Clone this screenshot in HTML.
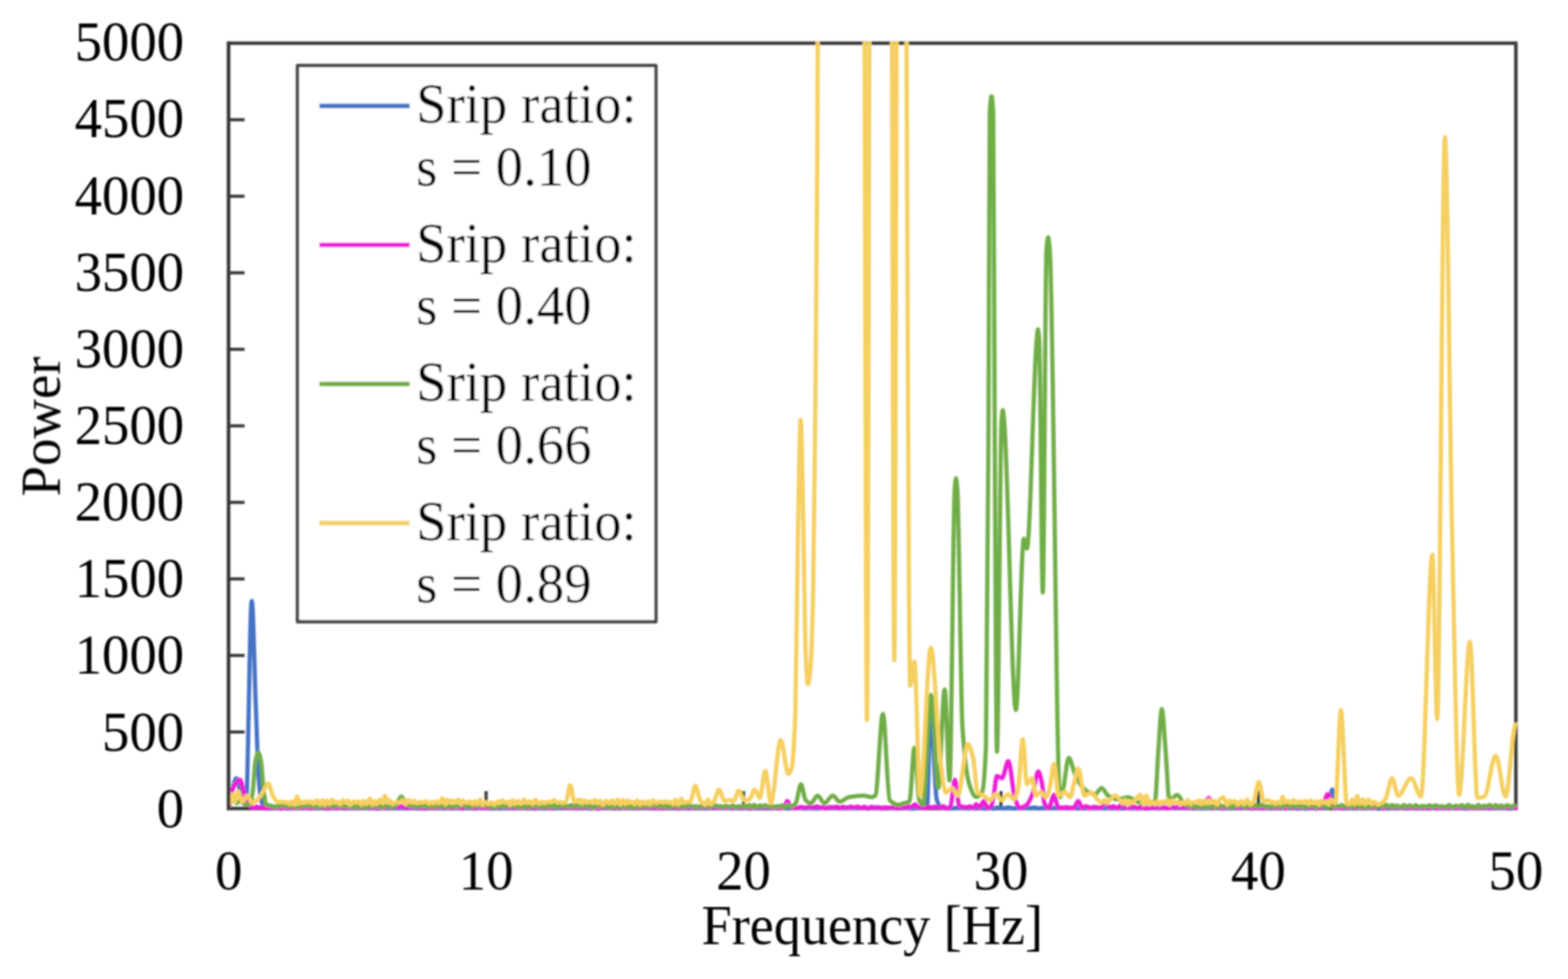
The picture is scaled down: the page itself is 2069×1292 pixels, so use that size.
<!DOCTYPE html>
<html><head><meta charset="utf-8"><title>Power spectrum</title>
<style>html,body{margin:0;padding:0;background:#fff;width:2069px;height:1292px;overflow:hidden}svg{display:block}</style>
</head><body>
<svg width="2069" height="1292" viewBox="0 0 2069 1292">
<rect x="0" y="0" width="2069" height="1292" fill="#fff"/>
<defs><clipPath id="pc"><rect x="299.7" y="55.0" width="1702.5" height="1018.0"/></clipPath><filter id="bl" filterUnits="userSpaceOnUse" x="0" y="0" width="2069" height="1292"><feGaussianBlur stdDeviation="0.5"/></filter><filter id="gall" filterUnits="userSpaceOnUse" x="0" y="0" width="2069" height="1292"><feGaussianBlur stdDeviation="1.0"/></filter></defs>
<g filter="url(#gall)">
<rect x="301.7" y="57.0" width="1698.5" height="1010.0" fill="none" stroke="#3a3a3a" stroke-width="4.6"/>
<line x1="641.4" y1="1067.0" x2="641.4" y2="1044.0" stroke="#3a3a3a" stroke-width="4.2"/>
<line x1="981.1" y1="1067.0" x2="981.1" y2="1044.0" stroke="#3a3a3a" stroke-width="4.2"/>
<line x1="1320.8" y1="1067.0" x2="1320.8" y2="1044.0" stroke="#3a3a3a" stroke-width="4.2"/>
<line x1="1660.5" y1="1067.0" x2="1660.5" y2="1044.0" stroke="#3a3a3a" stroke-width="4.2"/>
<g clip-path="url(#pc)"><g fill="none" stroke-width="5.6" stroke-linejoin="round" stroke-linecap="round">
<path stroke="#4472C4" d="M302.0 1064.0C303.3 1064.0 304.7 1050.1 306.0 1045.0C307.9 1037.6 309.9 1027.0 311.8 1027.0C313.5 1027.0 315.3 1038.7 317.0 1045.0C318.3 1049.8 319.7 1058.7 321.0 1060.0C322.2 1061.1 323.3 1062.0 324.5 1062.0C327.1 1062.0 329.6 793.0 332.2 793.0C334.0 793.0 335.7 884.5 337.5 930.0C338.7 960.1 339.8 1002.6 341.0 1020.0C342.0 1034.9 343.0 1046.9 344.0 1052.0C345.3 1058.8 346.7 1064.4 348.0 1065.0C350.8 1066.3 353.6 1066.9 356.3 1066.9C358.5 1066.9 360.6 1065.5 362.8 1065.5C364.6 1065.5 366.5 1066.6 368.4 1066.6C370.9 1066.6 373.4 1066.1 375.9 1066.1C377.6 1066.1 379.3 1067.0 381.0 1067.0C383.2 1067.0 385.4 1065.6 387.6 1065.6C389.0 1065.6 390.5 1066.5 391.9 1066.5C394.2 1066.5 396.5 1065.8 398.8 1065.8C401.2 1065.8 403.6 1066.5 406.0 1066.5C408.1 1066.5 410.2 1065.8 412.3 1065.8C414.2 1065.8 416.2 1066.4 418.1 1066.4C420.4 1066.4 422.6 1066.0 424.8 1066.0C427.2 1066.0 429.6 1067.0 432.0 1067.0C433.6 1067.0 435.2 1066.1 436.8 1066.1C439.1 1066.1 441.4 1066.5 443.7 1066.5C445.7 1066.5 447.8 1065.5 449.9 1065.5C451.5 1065.5 453.1 1066.9 454.8 1066.9C456.6 1066.9 458.4 1065.6 460.2 1065.6C461.7 1065.6 463.1 1066.7 464.6 1066.7C466.1 1066.7 467.5 1065.8 469.0 1065.8C470.6 1065.8 472.2 1066.5 473.8 1066.5C476.2 1066.5 478.6 1065.8 481.0 1065.8C483.2 1065.8 485.4 1066.8 487.6 1066.8C489.0 1066.8 490.4 1066.0 491.8 1066.0C493.9 1066.0 496.1 1066.9 498.2 1066.9C500.6 1066.9 503.1 1065.6 505.5 1065.6C508.0 1065.6 510.6 1066.8 513.1 1066.8C514.6 1066.8 516.1 1065.9 517.6 1065.9C519.7 1065.9 521.8 1066.6 523.9 1066.6C525.9 1066.6 527.9 1066.0 529.9 1066.0C531.8 1066.0 533.6 1066.6 535.5 1066.6C538.1 1066.6 540.6 1066.2 543.1 1066.2C545.6 1066.2 548.2 1066.5 550.7 1066.5C552.2 1066.5 553.7 1065.9 555.2 1065.9C557.7 1065.9 560.2 1066.9 562.7 1066.9C565.1 1066.9 567.6 1065.7 570.1 1065.7C572.1 1065.7 574.2 1066.4 576.2 1066.4C577.9 1066.4 579.6 1065.7 581.3 1065.7C582.8 1065.7 584.3 1066.8 585.8 1066.8C587.7 1066.8 589.6 1066.1 591.5 1066.1C593.2 1066.1 594.9 1066.8 596.6 1066.8C598.7 1066.8 600.8 1065.9 602.9 1065.9C604.7 1065.9 606.5 1066.6 608.3 1066.6C610.8 1066.6 613.3 1066.2 615.7 1066.2C618.3 1066.2 620.8 1066.5 623.3 1066.5C625.7 1066.5 628.1 1066.0 630.4 1066.0C632.7 1066.0 635.0 1066.5 637.3 1066.5C639.2 1066.5 641.2 1066.1 643.1 1066.1C645.4 1066.1 647.7 1067.0 650.0 1067.0C651.7 1067.0 653.5 1065.8 655.3 1065.8C656.8 1065.8 658.4 1066.9 659.9 1066.9C661.4 1066.9 662.8 1066.2 664.2 1066.2C666.2 1066.2 668.2 1066.5 670.2 1066.5C672.0 1066.5 673.7 1066.2 675.5 1066.2C677.7 1066.2 679.8 1066.5 682.0 1066.5C684.2 1066.5 686.4 1066.0 688.7 1066.0C690.4 1066.0 692.2 1066.5 694.0 1066.5C696.4 1066.5 698.8 1066.2 701.2 1066.2C702.7 1066.2 704.2 1067.0 705.8 1067.0C707.3 1067.0 708.8 1065.8 710.2 1065.8C712.8 1065.8 715.3 1066.9 717.8 1066.9C719.7 1066.9 721.6 1065.5 723.5 1065.5C725.9 1065.5 728.3 1066.8 730.7 1066.8C732.4 1066.8 734.2 1066.1 735.9 1066.1C737.8 1066.1 739.7 1066.4 741.5 1066.4C743.7 1066.4 745.9 1066.1 748.1 1066.1C750.1 1066.1 752.0 1066.3 753.9 1066.3C755.9 1066.3 757.9 1065.7 759.8 1065.7C762.3 1065.7 764.7 1066.6 767.2 1066.6C769.1 1066.6 770.9 1065.9 772.8 1065.9C774.5 1065.9 776.2 1066.9 778.0 1066.9C780.4 1066.9 782.8 1065.9 785.2 1065.9C786.8 1065.9 788.4 1067.0 790.0 1067.0C791.7 1067.0 793.3 1065.9 795.0 1065.9C796.7 1065.9 798.5 1066.3 800.2 1066.3C802.1 1066.3 804.0 1066.2 806.0 1066.2C807.7 1066.2 809.5 1066.9 811.3 1066.9C813.4 1066.9 815.6 1065.8 817.8 1065.8C820.0 1065.8 822.3 1066.3 824.5 1066.3C826.3 1066.3 828.1 1065.9 829.9 1065.9C832.0 1065.9 834.2 1066.8 836.3 1066.8C838.4 1066.8 840.6 1065.7 842.8 1065.7C845.0 1065.7 847.2 1066.3 849.4 1066.3C851.0 1066.3 852.6 1065.7 854.2 1065.7C856.8 1065.7 859.3 1066.9 861.8 1066.9C863.7 1066.9 865.5 1066.1 867.4 1066.1C869.9 1066.1 872.3 1066.6 874.8 1066.6C876.6 1066.6 878.5 1065.5 880.3 1065.5C881.7 1065.5 883.1 1066.4 884.6 1066.4C886.6 1066.4 888.7 1065.6 890.8 1065.6C893.3 1065.6 895.8 1066.8 898.4 1066.8C900.0 1066.8 901.7 1065.6 903.4 1065.6C904.8 1065.6 906.3 1067.0 907.7 1067.0C909.1 1067.0 910.5 1065.7 912.0 1065.7C913.5 1065.7 915.0 1066.4 916.6 1066.4C918.9 1066.4 921.2 1065.8 923.6 1065.8C925.5 1065.8 927.4 1066.5 929.3 1066.5C931.2 1066.5 933.1 1065.6 934.9 1065.6C937.1 1065.6 939.3 1066.3 941.5 1066.3C944.1 1066.3 946.7 1065.9 949.3 1065.9C951.3 1065.9 953.3 1066.3 955.4 1066.3C957.0 1066.3 958.7 1066.1 960.3 1066.1C962.0 1066.1 963.7 1066.4 965.4 1066.4C967.4 1066.4 969.4 1066.2 971.5 1066.2C973.7 1066.2 976.0 1067.0 978.2 1067.0C979.8 1067.0 981.5 1066.2 983.1 1066.2C985.0 1066.2 986.9 1067.0 988.7 1067.0C990.4 1067.0 992.1 1066.1 993.8 1066.1C995.7 1066.1 997.6 1066.7 999.6 1066.7C1001.4 1066.7 1003.2 1066.2 1004.9 1066.2C1007.1 1066.2 1009.3 1066.6 1011.4 1066.6C1013.5 1066.6 1015.6 1066.1 1017.7 1066.1C1020.1 1066.1 1022.4 1066.5 1024.7 1066.5C1026.9 1066.5 1029.1 1065.5 1031.3 1065.5C1033.5 1065.5 1035.8 1066.8 1038.1 1066.8C1040.2 1066.8 1042.3 1065.6 1044.5 1065.6C1046.6 1065.6 1048.7 1066.3 1050.9 1066.3C1052.9 1066.3 1054.8 1066.1 1056.8 1066.1C1059.0 1066.1 1061.2 1066.8 1063.5 1066.8C1065.2 1066.8 1066.9 1066.2 1068.6 1066.2C1071.2 1066.2 1073.8 1066.6 1076.4 1066.6C1078.7 1066.6 1081.0 1066.1 1083.4 1066.1C1085.6 1066.1 1087.9 1066.3 1090.1 1066.3C1092.1 1066.3 1094.1 1065.6 1096.1 1065.6C1097.6 1065.6 1099.2 1066.3 1100.8 1066.3C1102.5 1066.3 1104.3 1065.6 1106.1 1065.6C1107.9 1065.6 1109.8 1066.6 1111.7 1066.6C1113.6 1066.6 1115.4 1066.2 1117.2 1066.2C1118.7 1066.2 1120.3 1066.3 1121.8 1066.3C1123.6 1066.3 1125.4 1066.2 1127.2 1066.2C1129.4 1066.2 1131.5 1066.5 1133.7 1066.5C1136.2 1066.5 1138.7 1066.0 1141.2 1066.0C1142.6 1066.0 1144.0 1066.9 1145.4 1066.9C1147.4 1066.9 1149.4 1065.8 1151.4 1065.8C1153.7 1065.8 1156.1 1066.6 1158.4 1066.6C1159.8 1066.6 1161.2 1066.0 1162.6 1066.0C1164.3 1066.0 1166.0 1066.9 1167.7 1066.9C1169.9 1066.9 1172.1 1065.9 1174.3 1065.9C1176.8 1065.9 1179.3 1066.8 1181.9 1066.8C1183.3 1066.8 1184.8 1066.1 1186.2 1066.1C1188.1 1066.1 1190.0 1066.7 1191.9 1066.7C1193.4 1066.7 1194.9 1066.0 1196.4 1066.0C1198.7 1066.0 1201.0 1066.9 1203.4 1066.9C1205.5 1066.9 1207.7 1066.0 1209.8 1066.0C1212.6 1066.0 1215.3 1066.0 1218.0 1066.0C1219.7 1066.0 1221.5 1066.0 1223.2 1066.0C1224.8 1066.0 1226.4 935.0 1228.0 935.0C1230.7 935.0 1233.3 1046.6 1236.0 1055.0C1238.0 1061.3 1240.0 1066.0 1242.0 1066.0C1243.7 1066.0 1245.4 1066.0 1247.1 1066.0C1249.7 1066.1 1252.2 1066.9 1254.8 1066.9C1257.2 1066.9 1259.7 1066.1 1262.1 1066.1C1263.7 1066.1 1265.2 1066.3 1266.8 1066.3C1268.5 1066.3 1270.3 1065.9 1272.1 1065.9C1273.7 1065.9 1275.2 1066.9 1276.8 1066.9C1279.0 1066.9 1281.3 1066.2 1283.5 1066.2C1285.2 1066.2 1286.9 1067.0 1288.6 1067.0C1290.4 1067.0 1292.3 1066.2 1294.1 1066.2C1296.1 1066.2 1298.1 1067.0 1300.1 1067.0C1302.4 1067.0 1304.7 1066.1 1307.0 1066.1C1308.4 1066.1 1309.9 1066.9 1311.3 1066.9C1313.2 1066.9 1315.0 1065.6 1316.9 1065.6C1319.4 1065.6 1322.0 1066.8 1324.5 1066.8C1326.4 1066.8 1328.2 1065.6 1330.1 1065.6C1332.6 1065.6 1335.1 1066.9 1337.7 1066.9C1339.1 1066.9 1340.6 1065.9 1342.0 1065.9C1344.2 1065.9 1346.5 1066.7 1348.7 1066.7C1350.9 1066.7 1353.1 1065.9 1355.3 1065.9C1357.1 1065.9 1358.8 1066.4 1360.6 1066.4C1362.2 1066.4 1363.7 1065.8 1365.3 1065.8C1367.1 1065.8 1368.9 1066.8 1370.7 1066.8C1372.2 1066.8 1373.6 1066.2 1375.0 1066.2C1377.2 1066.2 1379.4 1066.5 1381.6 1066.5C1383.6 1066.5 1385.5 1065.8 1387.4 1065.8C1390.0 1065.8 1392.6 1066.7 1395.1 1066.7C1397.4 1066.7 1399.7 1065.6 1402.0 1065.6C1404.2 1065.6 1406.4 1066.8 1408.7 1066.8C1411.0 1066.8 1413.4 1065.8 1415.8 1065.8C1418.1 1065.8 1420.4 1066.8 1422.7 1066.8C1424.1 1066.8 1425.6 1065.7 1427.1 1065.7C1428.5 1065.7 1430.0 1067.0 1431.4 1067.0C1433.3 1067.0 1435.2 1065.8 1437.1 1065.8C1439.3 1065.8 1441.6 1066.7 1443.8 1066.7C1446.0 1066.7 1448.2 1066.0 1450.3 1066.0C1451.9 1066.0 1453.5 1066.5 1455.1 1066.5C1457.2 1066.5 1459.4 1066.2 1461.5 1066.2C1463.9 1066.2 1466.3 1066.8 1468.7 1066.8C1471.2 1066.8 1473.7 1065.5 1476.3 1065.5C1477.8 1065.5 1479.4 1066.9 1481.0 1066.9C1483.3 1066.9 1485.7 1065.9 1488.1 1065.9C1489.7 1065.9 1491.2 1066.8 1492.7 1066.8C1494.4 1066.8 1496.1 1066.2 1497.8 1066.2C1499.3 1066.2 1500.7 1066.8 1502.2 1066.8C1504.5 1066.8 1506.7 1065.7 1508.9 1065.7C1510.6 1065.7 1512.3 1066.9 1514.0 1066.9C1516.1 1066.9 1518.3 1065.6 1520.4 1065.6C1522.7 1065.6 1525.0 1066.7 1527.3 1066.7C1529.5 1066.7 1531.8 1065.6 1534.1 1065.6C1535.6 1065.6 1537.2 1066.4 1538.8 1066.4C1540.2 1066.4 1541.7 1066.2 1543.1 1066.2C1545.0 1066.2 1546.8 1066.3 1548.7 1066.3C1550.9 1066.3 1553.2 1065.9 1555.5 1065.9C1557.4 1065.9 1559.3 1066.3 1561.2 1066.3C1563.3 1066.3 1565.5 1066.0 1567.6 1066.0C1570.0 1066.0 1572.4 1066.7 1574.8 1066.7C1577.3 1066.7 1579.9 1066.2 1582.4 1066.2C1584.4 1066.2 1586.3 1066.6 1588.2 1066.6C1590.7 1066.6 1593.2 1065.9 1595.6 1065.9C1597.3 1065.9 1599.0 1066.5 1600.7 1066.5C1602.9 1066.5 1605.2 1065.7 1607.5 1065.7C1609.9 1065.7 1612.3 1066.6 1614.8 1066.6C1616.3 1066.6 1617.9 1066.1 1619.4 1066.1C1621.0 1066.1 1622.5 1066.6 1624.1 1066.6C1626.4 1066.6 1628.7 1065.7 1631.0 1065.7C1633.6 1065.7 1636.2 1066.5 1638.8 1066.5C1641.2 1066.5 1643.6 1065.6 1646.1 1065.6C1648.5 1065.6 1650.9 1066.6 1653.3 1066.6C1655.6 1066.6 1657.9 1065.6 1660.2 1065.6C1662.2 1065.6 1664.2 1066.9 1666.2 1066.9C1667.7 1066.9 1669.2 1065.7 1670.7 1065.7C1673.1 1065.7 1675.5 1066.9 1677.9 1066.9C1680.3 1066.9 1682.7 1065.5 1685.1 1065.5C1686.6 1065.5 1688.1 1066.5 1689.6 1066.5C1691.1 1066.5 1692.6 1065.7 1694.1 1065.7C1695.9 1065.7 1697.8 1066.3 1699.6 1066.3C1701.5 1066.3 1703.3 1065.6 1705.2 1065.6C1707.5 1065.6 1709.7 1066.9 1712.0 1066.9C1713.8 1066.9 1715.6 1066.0 1717.4 1066.0C1719.8 1066.0 1722.2 1066.9 1724.6 1066.9C1726.5 1066.9 1728.5 1065.6 1730.4 1065.6C1732.4 1065.6 1734.3 1066.9 1736.3 1066.9C1738.6 1066.9 1741.0 1066.2 1743.3 1066.1C1746.2 1066.0 1749.1 1066.1 1752.0 1066.0C1754.0 1065.9 1756.0 1042.0 1758.0 1042.0C1760.0 1042.0 1762.0 1065.7 1764.0 1066.0C1767.2 1066.5 1770.4 1066.8 1773.6 1066.8C1775.7 1066.8 1777.8 1066.1 1779.9 1066.1C1782.5 1066.1 1785.1 1066.8 1787.7 1066.8C1790.0 1066.8 1792.2 1066.1 1794.4 1066.1C1795.9 1066.1 1797.4 1066.8 1798.8 1066.8C1800.7 1066.8 1802.6 1065.7 1804.5 1065.7C1806.0 1065.7 1807.5 1066.5 1809.0 1066.5C1810.5 1066.5 1812.0 1066.0 1813.5 1066.0C1815.5 1066.0 1817.5 1067.0 1819.5 1067.0C1821.2 1067.0 1822.9 1066.0 1824.6 1066.0C1826.9 1066.0 1829.2 1066.8 1831.5 1066.8C1833.7 1066.8 1835.9 1065.8 1838.1 1065.8C1839.9 1065.8 1841.8 1067.0 1843.6 1067.0C1845.7 1067.0 1847.9 1065.8 1850.1 1065.8C1852.0 1065.8 1854.0 1066.9 1856.0 1066.9C1858.6 1066.9 1861.2 1065.8 1863.8 1065.8C1865.9 1065.8 1868.1 1066.5 1870.2 1066.5C1872.7 1066.5 1875.1 1066.2 1877.5 1066.2C1879.7 1066.2 1881.9 1066.8 1884.1 1066.8C1886.6 1066.8 1889.1 1066.0 1891.5 1066.0C1893.6 1066.0 1895.6 1066.6 1897.7 1066.6C1900.1 1066.6 1902.5 1065.5 1905.0 1065.5C1906.8 1065.5 1908.6 1066.6 1910.4 1066.6C1911.9 1066.6 1913.5 1065.7 1915.1 1065.7C1917.1 1065.7 1919.0 1066.6 1921.0 1066.6C1922.9 1066.6 1924.7 1066.1 1926.5 1066.1C1928.8 1066.1 1931.0 1066.9 1933.2 1066.9C1934.9 1066.9 1936.6 1066.0 1938.3 1066.0C1940.3 1066.0 1942.3 1066.3 1944.3 1066.3C1946.2 1066.3 1948.1 1066.1 1949.9 1066.1C1951.4 1066.1 1952.8 1066.6 1954.2 1066.6C1956.2 1066.6 1958.1 1065.9 1960.1 1065.9C1962.2 1065.9 1964.3 1066.8 1966.4 1066.8C1968.6 1066.8 1970.9 1066.1 1973.1 1066.1C1975.0 1066.1 1976.9 1066.4 1978.7 1066.4C1981.2 1066.4 1983.6 1065.9 1986.0 1065.9C1988.2 1065.9 1990.3 1067.0 1992.5 1067.0C1994.0 1067.0 1995.5 1066.1 1997.0 1066.1"/>
<path stroke="#EE1ED8" d="M302.0 1064.0C303.3 1064.0 304.7 1047.9 306.0 1044.0C307.7 1039.2 309.3 1036.1 311.0 1034.0C312.9 1031.7 314.7 1029.0 316.6 1029.0C318.4 1029.0 320.2 1040.3 322.0 1046.0C323.7 1051.3 325.3 1060.3 327.0 1062.0C328.3 1063.4 329.7 1063.9 331.0 1064.5C332.3 1065.2 333.7 1066.3 335.0 1066.3C336.1 1066.3 337.2 1064.6 338.3 1064.6C339.7 1064.6 341.2 1065.7 342.6 1065.7C344.5 1065.7 346.4 1064.7 348.2 1064.7C349.4 1064.7 350.6 1066.9 351.7 1066.9C353.6 1066.9 355.6 1065.1 357.5 1065.1C359.4 1065.1 361.2 1065.9 363.1 1065.9C364.2 1065.9 365.4 1065.0 366.6 1065.0C367.9 1065.0 369.1 1067.0 370.4 1067.0C372.0 1067.0 373.5 1065.0 375.0 1065.0C376.2 1065.0 377.4 1066.8 378.7 1066.8C379.7 1066.8 380.8 1064.2 381.9 1064.2C383.5 1064.2 385.0 1066.8 386.6 1066.8C387.7 1066.8 388.9 1065.3 390.1 1065.3C391.2 1065.3 392.3 1066.6 393.4 1066.6C394.7 1066.6 395.9 1065.2 397.1 1065.2C398.6 1065.2 400.0 1066.3 401.5 1066.3C402.9 1066.3 404.2 1064.7 405.6 1064.7C406.9 1064.7 408.3 1066.9 409.6 1066.9C411.1 1066.9 412.6 1064.9 414.1 1064.9C415.2 1064.9 416.4 1065.7 417.5 1065.7C418.6 1065.7 419.6 1064.7 420.7 1064.7C422.0 1064.7 423.4 1065.7 424.7 1065.7C426.4 1065.7 428.1 1065.3 429.7 1065.3C431.3 1065.3 432.9 1066.9 434.5 1066.9C435.7 1066.9 436.8 1064.6 437.9 1064.6C439.4 1064.6 440.9 1066.4 442.3 1066.4C443.8 1066.4 445.3 1065.1 446.8 1065.1C448.8 1065.1 450.7 1066.3 452.6 1066.3C453.7 1066.3 454.7 1064.9 455.8 1064.9C457.1 1064.9 458.5 1066.8 459.8 1066.8C461.0 1066.8 462.3 1064.4 463.5 1064.4C464.8 1064.4 466.1 1066.1 467.4 1066.1C469.1 1066.1 470.9 1064.1 472.6 1064.1C474.0 1064.1 475.5 1065.8 476.9 1065.8C478.8 1065.8 480.7 1064.2 482.6 1064.2C484.2 1064.2 485.7 1066.2 487.3 1066.2C489.1 1066.2 490.9 1064.6 492.8 1064.6C494.0 1064.6 495.3 1066.9 496.5 1066.9C497.8 1066.9 499.1 1064.6 500.4 1064.6C501.6 1064.6 502.9 1066.7 504.1 1066.7C506.0 1066.7 507.9 1065.4 509.8 1065.4C511.5 1065.4 513.3 1066.1 515.0 1066.1C517.0 1066.1 518.9 1061.2 520.9 1061.2C522.3 1061.2 523.7 1065.6 525.1 1065.6C526.9 1065.6 528.7 1063.9 530.5 1063.9C532.2 1063.9 534.0 1065.8 535.7 1065.8C537.0 1065.8 538.3 1065.3 539.5 1065.3C541.3 1065.3 543.0 1065.9 544.8 1065.9C546.6 1065.9 548.5 1064.0 550.3 1064.0C552.1 1064.0 553.9 1067.0 555.7 1067.0C556.8 1067.0 557.8 1064.2 558.9 1064.2C560.2 1064.2 561.6 1066.8 562.9 1066.8C564.3 1066.8 565.6 1065.0 567.0 1065.0C568.4 1065.0 569.9 1066.7 571.3 1066.7C572.4 1066.7 573.6 1065.2 574.7 1065.2C575.8 1065.2 577.0 1066.4 578.1 1066.4C579.3 1066.4 580.5 1064.3 581.6 1064.3C583.1 1064.3 584.5 1066.0 586.0 1066.0C587.3 1066.0 588.5 1065.5 589.8 1065.5C591.1 1065.5 592.5 1066.5 593.9 1066.5C595.1 1066.5 596.4 1065.0 597.7 1065.0C598.7 1065.0 599.8 1066.3 600.9 1066.3C602.3 1066.3 603.7 1065.1 605.0 1065.1C606.3 1065.1 607.5 1066.9 608.8 1066.9C610.0 1066.9 611.2 1064.0 612.4 1064.0C613.5 1064.0 614.7 1065.5 615.8 1065.5C617.5 1065.5 619.1 1064.1 620.7 1064.1C622.5 1064.1 624.3 1066.9 626.1 1066.9C627.3 1066.9 628.6 1064.3 629.9 1064.3C631.6 1064.3 633.4 1066.4 635.1 1066.4C637.0 1066.4 638.8 1065.4 640.7 1065.4C641.9 1065.4 643.1 1066.7 644.3 1066.7C646.2 1066.7 648.0 1064.9 649.9 1064.9C651.2 1064.9 652.5 1065.9 653.8 1065.9C655.6 1065.9 657.5 1064.6 659.4 1064.6C661.0 1064.6 662.7 1065.6 664.3 1065.6C666.1 1065.6 667.9 1064.8 669.6 1064.8C670.8 1064.8 671.9 1065.8 673.1 1065.8C674.3 1065.8 675.4 1063.5 676.6 1063.5C678.0 1063.5 679.4 1066.3 680.8 1066.3C682.0 1066.3 683.2 1064.9 684.4 1064.9C685.6 1064.9 686.7 1066.8 687.9 1066.8C689.4 1066.8 690.9 1064.1 692.4 1064.1C694.0 1064.1 695.5 1066.9 697.1 1066.9C698.9 1066.9 700.8 1064.0 702.6 1064.0C704.1 1064.0 705.7 1066.4 707.2 1066.4C708.8 1066.4 710.4 1064.3 711.9 1064.3C713.4 1064.3 714.9 1066.2 716.4 1066.2C717.7 1066.2 719.1 1064.7 720.4 1064.7C721.7 1064.7 723.0 1066.3 724.3 1066.3C726.2 1066.3 728.1 1065.1 729.9 1065.1C731.3 1065.1 732.6 1065.7 733.9 1065.7C735.2 1065.7 736.6 1064.3 737.9 1064.3C739.7 1064.3 741.6 1065.8 743.4 1065.8C744.6 1065.8 745.8 1064.8 747.1 1064.8C748.3 1064.8 749.6 1066.1 750.9 1066.1C752.7 1066.1 754.6 1064.1 756.4 1064.1C757.5 1064.1 758.7 1067.0 759.9 1067.0C761.2 1067.0 762.5 1064.7 763.9 1064.7C765.7 1064.7 767.4 1066.0 769.2 1066.0C770.8 1066.0 772.5 1064.3 774.1 1064.3C775.7 1064.3 777.3 1066.5 779.0 1066.5C780.3 1066.5 781.6 1065.3 782.9 1065.3C784.8 1065.3 786.6 1067.0 788.5 1067.0C790.2 1067.0 791.9 1065.4 793.6 1065.4C794.9 1065.4 796.2 1065.6 797.6 1065.6C799.0 1065.6 800.5 1064.7 801.9 1064.7C803.2 1064.7 804.4 1066.6 805.7 1066.6C806.8 1066.6 807.9 1065.5 809.0 1065.5C810.8 1065.5 812.5 1066.0 814.2 1066.0C815.5 1066.0 816.8 1064.0 818.0 1064.0C819.5 1064.0 820.9 1066.5 822.4 1066.5C823.6 1066.5 824.8 1064.1 826.0 1064.1C827.2 1064.1 828.3 1066.7 829.5 1066.7C831.3 1066.7 833.1 1064.9 834.8 1064.9C836.1 1064.9 837.5 1066.5 838.8 1066.5C840.4 1066.5 841.9 1065.0 843.5 1065.0C844.6 1065.0 845.7 1066.2 846.8 1066.2C848.4 1066.2 850.0 1065.0 851.6 1065.0C853.5 1065.0 855.3 1066.0 857.2 1066.0C858.6 1066.0 860.1 1065.3 861.5 1065.3C862.8 1065.3 864.1 1066.8 865.4 1066.8C866.9 1066.8 868.5 1065.2 870.0 1065.2C871.7 1065.2 873.5 1067.0 875.2 1067.0C876.8 1067.0 878.4 1065.2 880.1 1065.2C881.8 1065.2 883.5 1065.6 885.2 1065.6C886.5 1065.6 887.8 1064.4 889.2 1064.4C891.1 1064.4 893.0 1066.7 894.9 1066.7C896.5 1066.7 898.2 1065.4 899.8 1065.4C901.5 1065.4 903.2 1065.6 905.0 1065.6C906.7 1065.6 908.4 1064.7 910.2 1064.7C911.8 1064.7 913.4 1066.0 915.0 1066.0C916.6 1066.0 918.2 1064.4 919.8 1064.4C921.7 1064.4 923.6 1066.1 925.5 1066.1C927.3 1066.1 929.2 1064.4 931.0 1064.4C932.8 1064.4 934.6 1066.5 936.3 1066.5C938.1 1066.5 939.9 1064.2 941.7 1064.2C943.6 1064.2 945.5 1066.0 947.3 1066.0C948.8 1066.0 950.3 1065.1 951.8 1065.1C953.7 1065.1 955.5 1066.5 957.4 1066.5C958.6 1066.5 959.9 1064.4 961.1 1064.4C962.3 1064.4 963.6 1066.8 964.8 1066.8C966.0 1066.8 967.1 1064.7 968.3 1064.7C969.5 1064.7 970.8 1065.8 972.1 1065.8C973.2 1065.8 974.3 1065.2 975.4 1065.2C977.1 1065.2 978.8 1066.3 980.6 1066.3C982.2 1066.3 983.9 1065.0 985.6 1065.0C987.1 1065.0 988.6 1067.0 990.1 1067.0C991.3 1067.0 992.6 1065.0 993.8 1065.0C995.0 1065.0 996.3 1066.6 997.5 1066.6C999.4 1066.6 1001.4 1064.5 1003.3 1064.5C1005.1 1064.5 1006.8 1065.9 1008.6 1065.9C1010.4 1065.9 1012.1 1064.7 1013.9 1064.7C1015.1 1064.7 1016.2 1066.4 1017.3 1066.4C1018.7 1066.4 1020.2 1065.1 1021.6 1065.1C1023.4 1065.1 1025.2 1066.7 1027.1 1066.7C1029.4 1066.7 1031.7 1066.4 1034.0 1066.0C1035.7 1065.7 1037.3 1057.0 1039.0 1057.0C1040.7 1057.0 1042.3 1065.9 1044.0 1066.0C1047.0 1066.2 1050.0 1066.3 1053.0 1066.3C1054.1 1066.3 1055.2 1064.9 1056.3 1064.9C1058.1 1064.9 1059.8 1065.9 1061.6 1065.9C1063.5 1065.9 1065.5 1064.9 1067.4 1064.9C1069.2 1064.9 1071.0 1065.6 1072.8 1065.6C1074.6 1065.6 1076.4 1064.2 1078.3 1064.2C1079.7 1064.2 1081.1 1066.1 1082.4 1066.1C1083.6 1066.1 1084.8 1065.0 1085.9 1065.0C1087.2 1065.0 1088.4 1066.7 1089.6 1066.7C1091.3 1066.7 1092.9 1065.0 1094.5 1065.0C1096.3 1065.0 1098.1 1065.6 1099.8 1065.6C1101.1 1065.6 1102.3 1064.5 1103.6 1064.5C1104.8 1064.5 1106.1 1066.8 1107.3 1066.8C1109.0 1066.8 1110.6 1064.7 1112.2 1064.7C1113.9 1064.7 1115.5 1065.9 1117.2 1065.9C1119.0 1065.9 1120.8 1064.6 1122.7 1064.6C1123.9 1064.6 1125.1 1065.7 1126.3 1065.7C1128.0 1065.7 1129.8 1064.5 1131.6 1064.5C1133.4 1064.5 1135.2 1066.4 1137.0 1066.4C1138.2 1066.4 1139.4 1064.9 1140.6 1064.9C1142.5 1064.9 1144.3 1067.0 1146.2 1067.0C1147.2 1067.0 1148.3 1064.8 1149.3 1064.8C1151.2 1064.8 1153.0 1065.7 1154.8 1065.7C1156.0 1065.7 1157.1 1065.2 1158.2 1065.2C1159.6 1065.2 1161.1 1066.5 1162.5 1066.5C1164.4 1066.5 1166.4 1065.5 1168.3 1065.5C1170.1 1065.5 1172.0 1065.9 1173.8 1065.9C1175.7 1065.9 1177.5 1065.1 1179.3 1065.1C1181.3 1065.1 1183.2 1066.8 1185.1 1066.8C1186.6 1066.8 1188.0 1064.0 1189.5 1064.0C1191.2 1064.0 1192.9 1065.9 1194.7 1065.9C1196.0 1065.9 1197.3 1064.0 1198.5 1064.0C1199.7 1064.0 1200.9 1065.5 1202.0 1065.5C1203.9 1065.5 1205.7 1061.6 1207.6 1061.6C1209.2 1061.6 1210.7 1065.9 1212.3 1065.9C1213.4 1065.9 1214.6 1064.8 1215.7 1064.8C1217.4 1064.8 1219.1 1066.7 1220.8 1066.7C1222.1 1066.7 1223.5 1064.8 1224.8 1064.8C1226.8 1064.8 1228.7 1065.6 1230.7 1065.6C1231.7 1065.6 1232.8 1064.6 1233.8 1064.6C1235.6 1064.6 1237.5 1066.2 1239.3 1066.2C1241.1 1066.2 1243.0 1064.1 1244.9 1064.1C1246.1 1064.1 1247.3 1066.9 1248.5 1066.9C1250.3 1066.9 1252.2 1066.2 1254.0 1065.0C1256.0 1063.7 1258.0 1029.0 1260.0 1029.0C1262.0 1029.0 1264.0 1063.4 1266.0 1064.0C1267.6 1064.5 1269.2 1064.5 1270.7 1064.8C1272.4 1065.1 1274.1 1065.6 1275.7 1065.6C1277.1 1065.6 1278.5 1064.1 1279.9 1064.1C1281.3 1064.1 1282.7 1066.2 1284.1 1066.2C1285.5 1066.2 1286.8 1061.3 1288.2 1061.3C1289.8 1061.3 1291.4 1066.0 1293.0 1066.0C1294.7 1066.0 1296.3 1057.0 1298.0 1057.0C1299.7 1057.0 1301.3 1066.0 1303.0 1066.0C1304.7 1066.0 1306.3 1065.3 1308.0 1064.0C1309.2 1063.1 1310.4 1053.4 1311.6 1047.0C1312.9 1040.3 1314.1 1024.0 1315.4 1024.0C1317.7 1024.0 1319.9 1027.0 1322.2 1027.0C1324.9 1027.0 1327.7 1004.5 1330.4 1004.5C1333.5 1004.5 1336.5 1047.2 1339.6 1055.0C1341.7 1060.4 1343.9 1066.0 1346.0 1066.0C1348.7 1066.0 1351.3 1064.6 1354.0 1063.0C1356.9 1061.2 1359.9 1054.4 1362.8 1047.0C1365.2 1040.9 1367.6 1018.0 1370.0 1018.0C1371.8 1018.0 1373.6 1027.5 1375.4 1037.0C1376.3 1041.6 1377.1 1058.3 1378.0 1060.0C1380.0 1064.0 1382.0 1066.0 1384.0 1066.0C1386.3 1066.0 1388.5 1049.0 1390.8 1049.0C1392.5 1049.0 1394.3 1064.4 1396.0 1065.0C1398.5 1065.9 1400.9 1066.4 1403.4 1066.4C1404.7 1066.4 1406.0 1065.1 1407.3 1065.1C1408.7 1065.1 1410.1 1066.4 1411.5 1066.4C1413.4 1066.4 1415.2 1066.2 1417.0 1066.0C1418.9 1065.7 1420.8 1057.0 1422.7 1057.0C1424.5 1057.0 1426.2 1066.0 1428.0 1066.0C1429.8 1066.0 1431.7 1064.0 1433.5 1064.0C1435.1 1064.0 1436.8 1066.6 1438.4 1066.6C1440.2 1066.6 1442.0 1064.9 1443.8 1064.9C1446.8 1064.9 1449.9 1066.0 1453.0 1066.0C1454.8 1066.0 1456.7 1057.0 1458.5 1057.0C1460.3 1057.0 1462.2 1066.0 1464.0 1066.0C1465.7 1066.0 1467.3 1064.1 1469.0 1064.1C1470.8 1064.1 1472.6 1066.8 1474.4 1066.8C1476.2 1066.8 1478.1 1061.4 1480.0 1061.4C1481.2 1061.4 1482.5 1066.0 1483.7 1066.0C1484.8 1066.0 1485.9 1064.8 1486.9 1064.8C1488.4 1064.8 1489.8 1065.8 1491.3 1065.8C1492.6 1065.8 1493.9 1064.1 1495.2 1064.1C1497.1 1064.1 1499.1 1066.6 1501.0 1066.6C1502.6 1066.6 1504.3 1064.1 1506.0 1064.1C1507.8 1064.1 1509.6 1066.9 1511.4 1066.9C1513.3 1066.9 1515.3 1065.4 1517.2 1065.4C1519.0 1065.4 1520.8 1065.9 1522.6 1065.9C1524.3 1065.9 1526.0 1064.6 1527.7 1064.6C1528.9 1064.6 1530.2 1065.6 1531.4 1065.6C1533.2 1065.6 1535.0 1065.2 1536.8 1065.2C1538.2 1065.2 1539.6 1066.8 1541.1 1066.8C1542.9 1066.8 1544.7 1064.2 1546.5 1064.2C1547.6 1064.2 1548.7 1065.9 1549.8 1065.9C1551.7 1065.9 1553.5 1064.4 1555.4 1064.4C1557.3 1064.4 1559.3 1065.9 1561.2 1065.9C1562.9 1065.9 1564.6 1065.0 1566.3 1065.0C1567.7 1065.0 1569.0 1066.6 1570.3 1066.6C1571.7 1066.6 1573.0 1063.5 1574.4 1063.5C1575.7 1063.5 1577.0 1066.7 1578.3 1066.7C1579.3 1066.7 1580.4 1064.4 1581.5 1064.4C1584.0 1064.4 1586.5 1066.0 1589.0 1066.0C1591.0 1066.0 1593.0 1053.0 1595.0 1053.0C1597.0 1053.0 1599.0 1066.0 1601.0 1066.0C1602.6 1066.0 1604.3 1065.9 1605.9 1065.8C1607.0 1065.6 1608.1 1064.2 1609.2 1064.2C1610.6 1064.2 1611.9 1066.6 1613.2 1066.6C1614.7 1066.6 1616.3 1065.3 1617.8 1065.3C1619.2 1065.3 1620.7 1065.7 1622.1 1065.7C1624.0 1065.7 1625.9 1064.3 1627.8 1064.3C1629.1 1064.3 1630.3 1066.1 1631.6 1066.1C1633.5 1066.1 1635.4 1064.6 1637.3 1064.6C1639.1 1064.6 1640.8 1066.3 1642.6 1066.3C1644.2 1066.3 1645.8 1064.8 1647.4 1064.8C1649.0 1064.8 1650.6 1066.8 1652.2 1066.8C1653.8 1066.8 1655.4 1064.9 1657.1 1064.9C1658.6 1064.9 1660.1 1066.6 1661.6 1066.6C1663.5 1066.6 1665.4 1065.2 1667.3 1065.2C1668.3 1065.2 1669.4 1066.5 1670.4 1066.5C1672.1 1066.5 1673.7 1064.8 1675.3 1064.8C1676.9 1064.8 1678.5 1066.1 1680.0 1066.1C1681.3 1066.1 1682.6 1064.1 1683.9 1064.1C1685.0 1064.1 1686.0 1065.7 1687.1 1065.7C1688.3 1065.7 1689.5 1064.9 1690.7 1064.9C1692.6 1064.9 1694.4 1066.7 1696.3 1066.7C1697.6 1066.7 1698.9 1064.7 1700.2 1064.7C1701.7 1064.7 1703.2 1065.9 1704.6 1065.9C1706.6 1065.9 1708.5 1065.4 1710.5 1065.4C1712.2 1065.4 1714.0 1065.8 1715.8 1065.8C1717.7 1065.8 1719.6 1065.0 1721.5 1065.0C1723.1 1065.0 1724.8 1065.8 1726.4 1065.8C1728.2 1065.8 1730.0 1064.7 1731.7 1064.7C1733.4 1064.7 1735.1 1066.6 1736.8 1066.6C1737.8 1066.6 1738.9 1065.5 1740.0 1065.5C1741.3 1065.5 1742.7 1066.0 1744.0 1066.0C1746.7 1066.0 1749.3 1048.0 1752.0 1048.0C1754.7 1048.0 1757.3 1066.0 1760.0 1066.0C1762.2 1066.0 1764.4 1065.1 1766.6 1065.1C1767.9 1065.1 1769.1 1066.6 1770.3 1066.6C1772.1 1066.6 1773.9 1064.8 1775.7 1064.8C1777.6 1064.8 1779.4 1066.1 1781.3 1066.1C1782.3 1066.1 1783.4 1065.0 1784.5 1065.0C1785.8 1065.0 1787.1 1065.9 1788.4 1065.9C1789.6 1065.9 1790.9 1065.4 1792.1 1065.4C1793.7 1065.4 1795.3 1066.3 1796.9 1066.3C1798.7 1066.3 1800.5 1064.5 1802.4 1064.5C1803.7 1064.5 1805.1 1066.5 1806.4 1066.5C1807.8 1066.5 1809.1 1064.8 1810.5 1064.8C1811.7 1064.8 1813.0 1066.2 1814.2 1066.2C1816.1 1066.2 1818.0 1062.6 1819.9 1062.6C1821.5 1062.6 1823.1 1066.9 1824.7 1066.9C1826.7 1066.9 1828.6 1064.3 1830.5 1064.3C1832.1 1064.3 1833.6 1066.0 1835.1 1066.0C1836.5 1066.0 1837.9 1064.6 1839.3 1064.6C1840.7 1064.6 1842.0 1066.3 1843.4 1066.3C1844.5 1066.3 1845.6 1064.6 1846.7 1064.6C1848.0 1064.6 1849.3 1066.8 1850.6 1066.8C1852.3 1066.8 1854.0 1064.8 1855.7 1064.8C1857.3 1064.8 1858.8 1066.1 1860.3 1066.1C1861.7 1066.1 1863.0 1065.1 1864.4 1065.1C1866.1 1065.1 1867.8 1066.8 1869.5 1066.8C1870.7 1066.8 1871.9 1065.0 1873.0 1065.0C1874.4 1065.0 1875.7 1066.7 1877.0 1066.7C1878.5 1066.7 1879.9 1064.7 1881.3 1064.7C1882.7 1064.7 1884.0 1066.4 1885.3 1066.4C1887.3 1066.4 1889.2 1064.4 1891.2 1064.4C1892.7 1064.4 1894.2 1066.8 1895.7 1066.8C1897.6 1066.8 1899.5 1065.1 1901.5 1065.1C1902.7 1065.1 1904.0 1066.7 1905.2 1066.7C1906.6 1066.7 1907.9 1065.0 1909.3 1065.0C1910.7 1065.0 1912.1 1066.4 1913.5 1066.4C1914.6 1066.4 1915.8 1064.6 1916.9 1064.6C1918.2 1064.6 1919.5 1066.8 1920.7 1066.8C1921.8 1066.8 1922.9 1065.2 1923.9 1065.2C1925.6 1065.2 1927.2 1065.6 1928.8 1065.6C1930.6 1065.6 1932.4 1065.3 1934.1 1065.3C1935.4 1065.3 1936.6 1066.9 1937.8 1066.9C1938.9 1066.9 1940.0 1064.7 1941.1 1064.7C1943.0 1064.7 1944.9 1067.0 1946.8 1067.0C1948.1 1067.0 1949.4 1065.0 1950.7 1065.0C1951.8 1065.0 1952.9 1066.3 1954.1 1066.3C1955.9 1066.3 1957.8 1064.3 1959.6 1064.3C1961.1 1064.3 1962.6 1066.0 1964.1 1066.0C1965.3 1066.0 1966.5 1064.2 1967.6 1064.2C1969.0 1064.2 1970.4 1066.5 1971.8 1066.5C1972.9 1066.5 1974.0 1064.1 1975.2 1064.1C1976.7 1064.1 1978.3 1066.0 1979.9 1066.0C1981.5 1066.0 1983.1 1064.3 1984.7 1064.3C1986.3 1064.3 1988.0 1066.7 1989.6 1066.7C1991.3 1066.7 1993.0 1064.4 1994.7 1064.4C1996.4 1064.4 1998.1 1066.0 1999.8 1066.0"/>
<path stroke="#70AD47" d="M302.0 1062.0C303.7 1062.0 305.3 1052.0 307.0 1052.0C308.7 1052.0 310.3 1060.0 312.0 1060.0C314.0 1060.0 316.0 1056.0 318.0 1056.0C320.0 1056.0 322.0 1062.0 324.0 1062.0C326.0 1062.0 328.0 1061.7 330.0 1061.0C331.2 1060.6 332.3 1052.6 333.5 1045.0C334.7 1037.4 335.8 1010.8 337.0 1005.0C338.3 998.7 339.5 993.0 340.8 993.0C342.0 993.0 343.3 998.7 344.5 1005.0C345.7 1010.9 346.8 1037.0 348.0 1045.0C349.2 1053.0 350.3 1061.5 351.5 1062.0C353.0 1062.7 354.5 1062.6 356.0 1063.0C358.2 1063.5 360.4 1064.7 362.6 1064.7C363.7 1064.7 364.8 1063.9 365.9 1063.9C366.8 1063.9 367.8 1064.1 368.8 1064.1C370.1 1064.1 371.4 1063.0 372.8 1063.0C374.2 1063.0 375.7 1064.2 377.2 1064.2C378.3 1064.2 379.5 1063.3 380.7 1063.3C381.9 1063.3 383.0 1064.8 384.2 1064.8C385.6 1064.8 387.0 1063.1 388.3 1063.1C389.7 1063.1 391.0 1065.8 392.4 1065.8C394.1 1065.8 395.9 1063.3 397.6 1063.3C398.8 1063.3 400.1 1064.1 401.3 1064.1C403.0 1064.1 404.7 1063.0 406.4 1063.0C407.4 1063.0 408.5 1064.2 409.5 1064.2C410.5 1064.2 411.6 1062.9 412.7 1062.9C413.9 1062.9 415.1 1065.3 416.3 1065.3C417.4 1065.3 418.4 1063.9 419.5 1063.9C421.1 1063.9 422.7 1064.7 424.2 1064.7C425.3 1064.7 426.4 1062.6 427.5 1062.6C428.8 1062.6 430.0 1064.3 431.3 1064.3C433.0 1064.3 434.6 1063.1 436.3 1063.1C437.6 1063.1 439.0 1065.0 440.3 1065.0C441.7 1065.0 443.1 1062.0 444.5 1062.0C445.8 1062.0 447.1 1064.5 448.4 1064.5C449.9 1064.5 451.3 1063.3 452.8 1063.3C454.4 1063.3 456.0 1064.8 457.6 1064.8C459.2 1064.8 460.9 1064.0 462.6 1064.0C464.1 1064.0 465.5 1065.3 466.9 1065.3C468.0 1065.3 469.1 1062.6 470.2 1062.6C471.3 1062.6 472.5 1065.9 473.6 1065.9C475.3 1065.9 477.0 1063.3 478.7 1063.3C479.8 1063.3 480.9 1065.5 482.0 1065.5C483.7 1065.5 485.3 1063.6 486.9 1063.6C487.9 1063.6 488.9 1065.1 490.0 1065.1C491.1 1065.1 492.2 1063.3 493.3 1063.3C494.9 1063.3 496.6 1064.3 498.3 1064.3C499.2 1064.3 500.2 1063.2 501.2 1063.2C502.1 1063.2 503.1 1065.6 504.0 1065.6C505.4 1065.6 506.7 1063.2 508.0 1063.2C509.5 1063.2 511.0 1065.1 512.5 1065.1C513.7 1065.1 514.8 1063.5 515.9 1063.5C516.9 1063.5 517.9 1064.7 518.9 1064.7C520.3 1064.7 521.6 1063.2 523.0 1062.0C525.2 1060.0 527.4 1051.0 529.6 1051.0C531.7 1051.0 533.9 1061.1 536.0 1062.0C538.6 1063.0 541.2 1063.3 543.9 1063.7C545.5 1064.0 547.1 1064.4 548.7 1064.4C549.7 1064.4 550.6 1063.2 551.6 1063.2C552.6 1063.2 553.7 1064.4 554.8 1064.4C556.4 1064.4 558.1 1062.9 559.7 1062.9C561.3 1062.9 562.9 1065.0 564.6 1065.0C565.6 1065.0 566.7 1063.4 567.8 1063.4C569.4 1063.4 571.0 1065.0 572.6 1065.0C574.1 1065.0 575.6 1062.4 577.1 1062.4C578.2 1062.4 579.3 1065.2 580.3 1065.2C582.0 1065.2 583.6 1062.5 585.2 1062.5C586.7 1062.5 588.2 1065.6 589.6 1065.6C590.7 1065.6 591.7 1063.9 592.8 1063.9C593.9 1063.9 595.1 1065.0 596.2 1065.0C597.9 1065.0 599.6 1063.7 601.3 1063.7C602.9 1063.7 604.6 1064.8 606.2 1064.8C607.5 1064.8 608.9 1057.3 610.2 1057.3C611.7 1057.3 613.2 1064.4 614.7 1064.4C616.3 1064.4 617.9 1063.8 619.5 1063.8C620.5 1063.8 621.6 1065.0 622.7 1065.0C624.4 1065.0 626.1 1062.2 627.7 1062.2C629.2 1062.2 630.6 1064.5 632.0 1064.5C633.2 1064.5 634.4 1062.1 635.6 1062.1C637.2 1062.1 638.7 1064.2 640.2 1064.2C641.8 1064.2 643.3 1062.7 644.9 1062.7C646.1 1062.7 647.2 1065.5 648.4 1065.5C649.4 1065.5 650.3 1062.1 651.3 1062.1C652.3 1062.1 653.2 1065.4 654.2 1065.4C655.2 1065.4 656.2 1063.1 657.2 1063.1C658.3 1063.1 659.4 1065.0 660.4 1065.0C661.7 1065.0 663.0 1063.3 664.2 1063.3C665.4 1063.3 666.6 1064.9 667.8 1064.9C669.4 1064.9 671.0 1062.1 672.7 1062.1C673.7 1062.1 674.6 1064.1 675.6 1064.1C676.9 1064.1 678.3 1063.6 679.6 1063.6C680.7 1063.6 681.9 1065.4 683.0 1065.4C684.0 1065.4 685.1 1063.9 686.1 1063.9C687.7 1063.9 689.3 1065.8 690.9 1065.8C692.2 1065.8 693.5 1062.4 694.8 1062.4C695.8 1062.4 696.8 1065.3 697.8 1065.3C699.0 1065.3 700.3 1062.2 701.5 1062.2C702.8 1062.2 704.1 1064.7 705.4 1064.7C706.4 1064.7 707.4 1062.6 708.3 1062.6C709.8 1062.6 711.3 1065.3 712.8 1065.3C713.9 1065.3 715.1 1064.0 716.2 1064.0C717.3 1064.0 718.4 1065.1 719.4 1065.1C721.0 1065.1 722.5 1063.6 724.1 1063.6C725.5 1063.6 727.0 1064.7 728.4 1064.7C729.4 1064.7 730.3 1062.2 731.3 1062.2C732.4 1062.2 733.6 1065.5 734.8 1065.5C736.3 1065.5 737.8 1062.1 739.2 1062.1C740.5 1062.1 741.7 1064.9 743.0 1064.9C744.1 1064.9 745.1 1063.2 746.2 1063.2C747.6 1063.2 749.0 1064.4 750.3 1064.4C751.5 1064.4 752.6 1062.3 753.8 1062.3C754.9 1062.3 756.0 1064.9 757.1 1064.9C758.6 1064.9 760.1 1062.9 761.6 1062.9C762.7 1062.9 763.8 1064.9 764.9 1064.9C766.1 1064.9 767.4 1062.4 768.6 1062.4C770.3 1062.4 772.0 1064.8 773.7 1064.8C774.8 1064.8 776.0 1063.2 777.1 1063.2C778.6 1063.2 780.1 1065.9 781.6 1065.9C783.1 1065.9 784.5 1063.4 785.9 1063.4C786.9 1063.4 788.0 1064.6 789.0 1064.6C790.5 1064.6 792.0 1063.5 793.5 1063.5C794.7 1063.5 796.0 1064.7 797.2 1064.7C798.3 1064.7 799.5 1064.0 800.6 1064.0C802.2 1064.0 803.8 1065.7 805.4 1065.7C807.1 1065.7 808.7 1063.0 810.4 1063.0C811.4 1063.0 812.5 1065.3 813.5 1065.3C814.8 1065.3 816.1 1063.6 817.4 1063.6C818.7 1063.6 820.1 1065.5 821.4 1065.5C822.7 1065.5 824.0 1063.1 825.3 1063.1C826.7 1063.1 828.1 1065.5 829.5 1065.5C830.5 1065.5 831.6 1062.3 832.7 1062.3C833.7 1062.3 834.8 1065.9 835.8 1065.9C837.4 1065.9 839.0 1062.9 840.6 1062.9C842.0 1062.9 843.4 1065.3 844.9 1065.3C846.2 1065.3 847.4 1062.5 848.7 1062.5C850.3 1062.5 851.9 1065.2 853.4 1065.2C854.4 1065.2 855.4 1063.3 856.3 1063.3C857.4 1063.3 858.4 1064.2 859.5 1064.2C861.2 1064.2 862.8 1063.0 864.5 1063.0C866.0 1063.0 867.5 1064.9 869.0 1064.9C870.0 1064.9 871.1 1062.1 872.2 1062.1C873.5 1062.1 874.7 1065.2 876.0 1065.2C877.0 1065.2 878.0 1062.8 879.0 1062.8C880.3 1062.8 881.5 1065.4 882.8 1065.4C884.2 1065.4 885.6 1062.4 887.0 1062.4C888.2 1062.4 889.3 1064.7 890.5 1064.7C891.5 1064.7 892.4 1062.4 893.4 1062.4C895.0 1062.4 896.6 1065.1 898.2 1065.1C899.3 1065.1 900.3 1064.0 901.4 1064.0C902.5 1064.0 903.7 1064.5 904.8 1064.5C906.4 1064.5 908.0 1062.7 909.5 1062.7C911.0 1062.7 912.5 1064.5 913.9 1064.5C915.1 1064.5 916.4 1063.8 917.6 1063.8C918.7 1063.8 919.8 1065.6 920.9 1065.6C922.2 1065.6 923.4 1063.9 924.7 1063.9C925.8 1063.9 927.0 1064.2 928.1 1064.2C929.7 1064.2 931.2 1064.0 932.7 1064.0C934.3 1064.0 935.9 1064.9 937.5 1064.9C939.1 1064.9 940.7 1061.3 942.4 1061.3C943.6 1061.3 944.7 1064.3 945.9 1064.3C947.5 1064.3 949.1 1063.8 950.7 1063.8C951.7 1063.8 952.8 1065.5 953.8 1065.5C955.0 1065.5 956.2 1063.2 957.4 1063.2C958.9 1063.2 960.3 1065.5 961.8 1065.5C963.4 1065.5 965.1 1063.0 966.7 1063.0C968.3 1063.0 969.8 1065.3 971.4 1065.3C972.5 1065.3 973.7 1063.8 974.8 1063.8C975.9 1063.8 977.0 1064.5 978.2 1064.5C979.4 1064.5 980.6 1062.6 981.8 1062.6C982.8 1062.6 983.8 1065.4 984.8 1065.4C986.0 1065.4 987.3 1062.2 988.5 1062.2C989.6 1062.2 990.7 1065.7 991.8 1065.7C993.0 1065.7 994.1 1062.1 995.2 1062.1C996.4 1062.1 997.5 1065.9 998.6 1065.9C999.9 1065.9 1001.2 1062.8 1002.5 1062.8C1003.8 1062.8 1005.1 1064.5 1006.4 1064.5C1007.3 1064.5 1008.2 1062.6 1009.2 1062.6C1010.7 1062.6 1012.3 1065.0 1013.8 1065.0C1015.1 1065.0 1016.5 1063.0 1017.8 1063.0C1019.1 1063.0 1020.4 1065.5 1021.8 1065.5C1023.0 1065.5 1024.2 1063.9 1025.4 1063.9C1026.3 1063.9 1027.3 1064.9 1028.3 1064.9C1029.4 1064.9 1030.5 1062.9 1031.7 1062.9C1032.8 1062.9 1033.9 1065.7 1035.0 1065.7C1036.4 1065.7 1037.8 1062.6 1039.2 1062.6C1040.6 1062.6 1041.9 1064.8 1043.3 1064.8C1045.5 1064.8 1047.8 1062.7 1050.0 1060.0C1052.3 1057.2 1054.6 1035.0 1056.9 1035.0C1058.9 1035.0 1061.0 1054.0 1063.0 1056.0C1065.3 1058.3 1067.7 1060.0 1070.0 1060.0C1072.9 1060.0 1075.9 1050.0 1078.8 1050.0C1081.9 1050.0 1084.9 1060.0 1088.0 1060.0C1091.6 1060.0 1095.1 1050.0 1098.7 1050.0C1101.8 1050.0 1104.9 1058.0 1108.0 1058.0C1112.0 1058.0 1116.0 1052.7 1120.0 1052.0C1126.7 1050.8 1133.3 1050.0 1140.0 1050.0C1143.3 1050.0 1146.7 1052.0 1150.0 1052.0C1151.7 1052.0 1153.3 1051.2 1155.0 1050.0C1158.3 1047.7 1161.7 942.0 1165.0 942.0C1168.0 942.0 1171.0 1052.8 1174.0 1056.0C1177.7 1060.0 1181.3 1062.0 1185.0 1062.0C1187.7 1062.0 1190.3 1060.7 1193.0 1060.0C1195.3 1059.4 1197.7 1059.3 1200.0 1058.0C1202.2 1056.8 1204.4 987.0 1206.6 987.0C1208.7 987.0 1210.9 1051.5 1213.0 1056.0C1214.7 1059.5 1216.3 1062.0 1218.0 1062.0C1221.5 1062.0 1225.0 917.0 1228.5 917.0C1231.7 917.0 1234.8 1040.0 1238.0 1040.0C1240.8 1040.0 1243.7 910.0 1246.5 910.0C1248.7 910.0 1250.8 1030.0 1253.0 1030.0C1255.3 1030.0 1257.5 676.2 1259.8 646.0C1260.4 638.5 1260.9 631.0 1261.5 631.0C1262.1 631.0 1262.6 638.6 1263.2 646.0C1265.5 675.6 1267.7 926.9 1270.0 960.0C1273.0 1003.8 1276.0 1025.9 1279.0 1035.0C1282.0 1044.1 1285.0 1051.7 1288.0 1051.7C1290.7 1051.7 1293.3 1049.5 1296.0 1045.0C1297.7 1042.2 1299.3 1023.8 1301.0 985.0C1302.1 959.4 1303.2 750.9 1304.3 560.0C1304.9 461.7 1305.4 161.4 1306.0 150.0C1306.8 134.6 1307.5 127.0 1308.3 127.0C1309.1 127.0 1309.8 134.9 1310.6 150.0C1311.2 162.5 1311.9 448.9 1312.5 560.0C1313.5 735.4 1314.5 992.0 1315.5 992.0C1317.5 992.0 1319.5 583.5 1321.5 556.0C1322.1 548.2 1322.6 541.0 1323.2 541.0C1323.8 541.0 1324.4 549.4 1325.0 556.0C1330.2 612.9 1335.3 937.0 1340.5 937.0C1344.0 937.0 1347.5 711.0 1351.0 711.0C1352.3 711.0 1353.7 724.0 1355.0 724.0C1359.3 724.0 1363.5 499.5 1367.8 450.0C1368.4 443.4 1368.9 434.5 1369.5 434.5C1370.1 434.5 1370.7 441.7 1371.3 450.0C1372.9 471.5 1374.4 782.0 1376.0 782.0C1377.6 782.0 1379.2 350.7 1380.8 330.0C1381.5 320.5 1382.3 313.0 1383.0 313.0C1383.7 313.0 1384.5 321.6 1385.2 330.0C1389.7 381.2 1394.1 1052.0 1398.6 1052.0C1400.1 1052.0 1401.5 1045.2 1403.0 1040.0C1405.4 1031.5 1407.8 1000.0 1410.2 1000.0C1412.8 1000.0 1415.4 1014.2 1418.0 1020.0C1420.7 1026.0 1423.3 1032.4 1426.0 1036.0C1428.7 1039.6 1431.3 1042.5 1434.0 1044.0C1437.7 1046.0 1441.3 1048.0 1445.0 1048.0C1447.9 1048.0 1450.8 1040.0 1453.7 1040.0C1456.5 1040.0 1459.2 1048.3 1462.0 1050.0C1466.3 1052.6 1470.7 1055.0 1475.0 1055.0C1479.6 1055.0 1484.1 1052.0 1488.7 1052.0C1492.5 1052.0 1496.2 1056.9 1500.0 1058.0C1503.3 1059.0 1506.7 1060.0 1510.0 1060.0C1512.8 1060.0 1515.7 1058.6 1518.5 1058.0C1520.3 1057.6 1522.2 1057.7 1524.0 1057.0C1525.5 1056.4 1527.0 1010.0 1528.5 990.0C1530.0 970.0 1531.5 935.7 1533.0 935.7C1534.7 935.7 1536.3 970.1 1538.0 990.0C1539.7 1009.9 1541.3 1056.0 1543.0 1056.0C1546.5 1056.0 1550.1 1049.0 1553.6 1049.0C1556.4 1049.0 1559.2 1058.0 1562.0 1060.0C1565.1 1062.2 1568.1 1064.6 1571.2 1064.6C1572.4 1064.6 1573.5 1062.3 1574.7 1062.3C1576.2 1062.3 1577.7 1065.9 1579.2 1065.9C1580.8 1065.9 1582.3 1063.6 1583.9 1063.6C1585.2 1063.6 1586.5 1065.4 1587.8 1065.4C1589.0 1065.4 1590.1 1063.1 1591.2 1063.1C1592.3 1063.1 1593.4 1065.7 1594.4 1065.7C1596.0 1065.7 1597.6 1063.4 1599.3 1063.4C1600.9 1063.4 1602.6 1065.7 1604.2 1065.7C1605.8 1065.7 1607.5 1062.0 1609.1 1062.0C1610.4 1062.0 1611.7 1064.7 1613.0 1064.7C1614.4 1064.7 1615.7 1063.5 1617.0 1063.5C1618.1 1063.5 1619.2 1065.2 1620.3 1065.2C1621.3 1065.2 1622.2 1063.4 1623.2 1063.4C1624.2 1063.4 1625.3 1065.6 1626.3 1065.6C1627.6 1065.6 1628.8 1061.7 1630.1 1061.7C1631.2 1061.7 1632.3 1064.4 1633.4 1064.4C1634.9 1064.4 1636.5 1062.4 1638.0 1062.4C1639.8 1062.4 1641.5 1065.5 1643.2 1065.5C1644.7 1065.5 1646.2 1063.1 1647.7 1063.1C1649.0 1063.1 1650.3 1064.6 1651.6 1064.6C1653.1 1064.6 1654.7 1062.1 1656.2 1062.1C1657.4 1062.1 1658.6 1064.7 1659.8 1064.7C1661.4 1064.7 1663.0 1062.1 1664.5 1062.1C1666.1 1062.1 1667.6 1064.6 1669.1 1064.6C1670.1 1064.6 1671.2 1063.8 1672.3 1063.8C1673.7 1063.8 1675.1 1065.3 1676.5 1065.3C1677.9 1065.3 1679.4 1063.7 1680.8 1063.7C1682.1 1063.7 1683.5 1064.3 1684.9 1064.3C1686.4 1064.3 1687.9 1063.8 1689.4 1063.8C1690.4 1063.8 1691.5 1064.9 1692.5 1064.9C1694.0 1064.9 1695.5 1059.3 1696.9 1059.3C1698.0 1059.3 1699.1 1065.0 1700.2 1065.0C1701.5 1065.0 1702.8 1063.0 1704.1 1063.0C1705.3 1063.0 1706.5 1065.0 1707.7 1065.0C1708.8 1065.0 1709.9 1063.6 1711.0 1063.6C1712.1 1063.6 1713.2 1064.4 1714.2 1064.4C1715.5 1064.4 1716.7 1063.8 1717.9 1063.8C1718.9 1063.8 1719.8 1065.4 1720.8 1065.4C1722.2 1065.4 1723.7 1064.0 1725.1 1064.0C1726.5 1064.0 1727.9 1064.0 1729.3 1064.0C1730.5 1064.0 1731.7 1062.3 1732.8 1062.3C1734.2 1062.3 1735.5 1065.8 1736.8 1065.8C1738.0 1065.8 1739.3 1058.8 1740.5 1058.8C1741.8 1058.8 1743.2 1064.5 1744.5 1064.5C1745.7 1064.5 1747.0 1062.1 1748.2 1062.1C1749.5 1062.1 1750.7 1065.4 1752.0 1065.4C1753.4 1065.4 1754.8 1063.6 1756.1 1063.6C1757.4 1063.6 1758.7 1064.2 1760.0 1064.2C1761.0 1064.2 1761.9 1063.4 1762.9 1063.4C1764.4 1063.4 1765.9 1064.5 1767.4 1064.5C1768.3 1064.5 1769.3 1062.4 1770.2 1062.4C1771.5 1062.4 1772.8 1064.8 1774.2 1064.8C1775.7 1064.8 1777.3 1062.1 1778.9 1062.1C1780.4 1062.1 1781.9 1065.8 1783.4 1065.8C1784.6 1065.8 1785.8 1062.2 1787.0 1062.2C1788.4 1062.2 1789.7 1065.1 1791.1 1065.1C1792.4 1065.1 1793.7 1063.9 1795.0 1063.9C1796.7 1063.9 1798.4 1065.8 1800.1 1065.8C1801.0 1065.8 1802.0 1062.8 1802.9 1062.8C1804.2 1062.8 1805.5 1065.8 1806.8 1065.8C1808.2 1065.8 1809.7 1062.7 1811.1 1062.7C1812.7 1062.7 1814.3 1064.9 1815.9 1064.9C1817.4 1064.9 1819.0 1063.5 1820.6 1063.5C1822.0 1063.5 1823.5 1064.7 1825.0 1064.7C1826.6 1064.7 1828.2 1062.1 1829.8 1062.1C1830.7 1062.1 1831.7 1065.1 1832.6 1065.1C1834.1 1065.1 1835.5 1062.4 1837.0 1062.4C1838.0 1062.4 1839.0 1064.8 1840.0 1064.8C1841.0 1064.8 1842.1 1063.0 1843.2 1063.0C1844.9 1063.0 1846.5 1065.9 1848.1 1065.9C1849.5 1065.9 1850.9 1062.2 1852.3 1062.2C1853.3 1062.2 1854.4 1064.9 1855.4 1064.9C1857.0 1064.9 1858.6 1062.7 1860.2 1062.7C1861.8 1062.7 1863.4 1065.2 1865.0 1065.2C1866.0 1065.2 1867.0 1062.6 1868.1 1062.6C1869.6 1062.6 1871.2 1065.1 1872.8 1065.1C1874.3 1065.1 1875.8 1063.7 1877.3 1063.7C1879.0 1063.7 1880.6 1064.4 1882.2 1064.4C1883.8 1064.4 1885.3 1062.7 1886.9 1062.7C1888.1 1062.7 1889.3 1065.4 1890.5 1065.4C1891.6 1065.4 1892.8 1062.8 1894.0 1062.8C1895.4 1062.8 1896.9 1064.2 1898.4 1064.2C1900.1 1064.2 1901.8 1064.0 1903.5 1064.0C1904.9 1064.0 1906.3 1065.1 1907.7 1065.1C1909.2 1065.1 1910.8 1062.2 1912.3 1062.2C1913.7 1062.2 1915.2 1065.7 1916.6 1065.7C1917.9 1065.7 1919.2 1063.3 1920.5 1063.3C1922.1 1063.3 1923.8 1064.3 1925.5 1064.3C1926.8 1064.3 1928.2 1062.6 1929.5 1062.6C1930.9 1062.6 1932.2 1065.7 1933.6 1065.7C1934.8 1065.7 1935.9 1062.1 1937.1 1062.1C1938.1 1062.1 1939.1 1065.3 1940.1 1065.3C1941.2 1065.3 1942.2 1063.7 1943.3 1063.7C1944.4 1063.7 1945.6 1066.0 1946.8 1066.0C1948.1 1066.0 1949.4 1062.1 1950.7 1062.1C1952.0 1062.1 1953.2 1065.2 1954.5 1065.2C1955.6 1065.2 1956.8 1063.3 1957.9 1063.3C1959.2 1063.3 1960.5 1064.2 1961.8 1064.2C1963.0 1064.2 1964.2 1062.2 1965.4 1062.2C1966.9 1062.2 1968.3 1065.0 1969.8 1065.0C1971.0 1065.0 1972.3 1062.2 1973.5 1062.2C1974.6 1062.2 1975.7 1065.4 1976.8 1065.4C1978.0 1065.4 1979.3 1062.9 1980.5 1062.9C1981.7 1062.9 1982.8 1065.4 1984.0 1065.4C1985.7 1065.4 1987.4 1062.5 1989.1 1062.5C1990.8 1062.5 1992.4 1065.7 1994.1 1065.7C1995.4 1065.7 1996.8 1062.6 1998.2 1062.6"/>
<path stroke="#F5CF5F" d="M302.0 1062.0C303.3 1062.0 304.7 1048.0 306.0 1048.0C307.3 1048.0 308.7 1058.0 310.0 1058.0C311.3 1058.0 312.7 1044.0 314.0 1044.0C316.0 1044.0 318.0 1058.0 320.0 1058.0C322.0 1058.0 324.0 1050.0 326.0 1050.0C328.3 1050.0 330.7 1060.0 333.0 1060.0C335.3 1060.0 337.7 1057.2 340.0 1055.0C342.3 1052.8 344.7 1048.5 347.0 1045.0C349.3 1041.5 351.7 1034.0 354.0 1034.0C356.0 1034.0 358.0 1046.4 360.0 1050.0C362.0 1053.6 364.0 1058.0 366.0 1058.0C367.9 1058.0 369.8 1058.0 371.8 1058.0C372.9 1058.0 374.1 1058.8 375.2 1058.8C376.3 1058.8 377.4 1058.5 378.5 1058.5C379.8 1058.5 381.2 1061.5 382.6 1061.5C383.4 1061.5 384.3 1057.5 385.2 1057.5C386.6 1057.5 387.9 1062.1 389.2 1062.1C390.2 1062.1 391.2 1051.0 392.2 1051.0C393.2 1051.0 394.1 1060.4 395.0 1060.4C396.2 1060.4 397.3 1058.0 398.4 1058.0C399.3 1058.0 400.2 1060.1 401.2 1060.1C402.0 1060.1 402.9 1057.2 403.8 1057.2C404.9 1057.2 405.9 1058.9 406.9 1058.9C408.2 1058.9 409.6 1057.6 411.0 1057.6C412.0 1057.6 412.9 1061.0 413.9 1061.0C415.3 1061.0 416.7 1056.3 418.1 1056.3C419.6 1056.3 421.2 1061.7 422.7 1061.7C423.7 1061.7 424.7 1055.9 425.7 1055.9C426.7 1055.9 427.7 1062.2 428.7 1062.2C429.6 1062.2 430.5 1056.6 431.4 1056.6C432.6 1056.6 433.8 1061.1 435.1 1061.1C436.2 1061.1 437.3 1055.2 438.5 1055.2C439.7 1055.2 440.9 1059.3 442.1 1059.3C443.1 1059.3 444.0 1058.2 445.0 1058.2C446.4 1058.2 447.8 1061.6 449.1 1061.6C450.1 1061.6 451.0 1056.0 452.0 1056.0C452.9 1056.0 453.9 1058.9 454.9 1058.9C456.3 1058.9 457.7 1056.5 459.2 1056.5C460.0 1056.5 460.9 1062.4 461.8 1062.4C463.3 1062.4 464.8 1057.9 466.3 1057.9C467.3 1057.9 468.3 1059.4 469.3 1059.4C470.5 1059.4 471.8 1057.6 473.0 1057.6C474.3 1057.6 475.6 1062.2 476.9 1062.2C477.9 1062.2 478.9 1056.7 479.9 1056.7C481.1 1056.7 482.4 1061.4 483.6 1061.4C485.1 1061.4 486.5 1053.7 488.0 1053.7C489.1 1053.7 490.3 1062.3 491.4 1062.3C492.3 1062.3 493.3 1057.4 494.2 1057.4C495.1 1057.4 496.0 1061.1 496.9 1061.1C498.4 1061.1 499.8 1055.1 501.2 1055.1C502.5 1055.1 503.8 1060.3 505.1 1060.3C506.1 1060.3 507.0 1050.4 507.9 1050.4C509.2 1050.4 510.5 1058.9 511.8 1058.9C512.6 1058.9 513.5 1056.4 514.3 1056.4C515.6 1056.4 517.0 1061.3 518.3 1061.3C519.8 1061.3 521.3 1058.5 522.8 1058.5C524.2 1058.5 525.5 1059.1 526.8 1059.1C528.2 1059.1 529.5 1056.1 530.8 1056.1C532.3 1056.1 533.8 1061.2 535.2 1061.2C536.5 1061.2 537.8 1055.4 539.1 1055.4C540.2 1055.4 541.3 1059.5 542.4 1059.5C543.8 1059.5 545.3 1056.6 546.7 1056.6C547.8 1056.6 548.9 1060.3 549.9 1060.3C551.2 1060.3 552.4 1058.4 553.7 1058.4C555.2 1058.4 556.7 1059.2 558.2 1059.2C559.5 1059.2 560.9 1057.3 562.2 1057.3C563.4 1057.3 564.6 1060.8 565.9 1060.8C567.3 1060.8 568.7 1058.4 570.1 1058.4C570.9 1058.4 571.7 1060.2 572.6 1060.2C573.7 1060.2 574.9 1057.9 576.0 1057.9C577.2 1057.9 578.4 1060.2 579.5 1060.2C581.0 1060.2 582.5 1053.5 583.9 1053.5C585.2 1053.5 586.5 1061.7 587.8 1061.7C588.7 1061.7 589.7 1055.4 590.6 1055.4C591.7 1055.4 592.8 1059.2 594.0 1059.2C595.0 1059.2 596.1 1056.3 597.1 1056.3C598.2 1056.3 599.3 1059.5 600.5 1059.5C601.9 1059.5 603.4 1055.4 604.8 1055.4C606.1 1055.4 607.3 1061.3 608.5 1061.3C609.4 1061.3 610.3 1056.9 611.2 1056.9C612.7 1056.9 614.1 1059.8 615.5 1059.8C617.0 1059.8 618.4 1057.7 619.9 1057.7C621.1 1057.7 622.2 1061.5 623.3 1061.5C624.3 1061.5 625.3 1057.2 626.2 1057.2C627.4 1057.2 628.5 1061.3 629.7 1061.3C631.1 1061.3 632.5 1055.1 633.9 1055.1C634.8 1055.1 635.7 1062.4 636.5 1062.4C638.0 1062.4 639.4 1058.6 640.8 1058.6C642.0 1058.6 643.2 1061.3 644.5 1061.3C645.8 1061.3 647.2 1058.7 648.6 1058.7C649.7 1058.7 650.8 1062.4 652.0 1062.4C653.4 1062.4 654.8 1057.9 656.2 1057.9C657.0 1057.9 657.9 1060.1 658.7 1060.1C659.8 1060.1 661.0 1056.4 662.1 1056.4C663.5 1056.4 664.9 1058.9 666.2 1058.9C667.5 1058.9 668.8 1058.0 670.1 1058.0C671.1 1058.0 672.0 1062.5 673.0 1062.5C674.1 1062.5 675.3 1056.1 676.4 1056.1C677.4 1056.1 678.4 1061.2 679.4 1061.2C680.7 1061.2 682.0 1056.8 683.3 1056.8C684.7 1056.8 686.0 1061.0 687.4 1061.0C688.7 1061.0 690.1 1055.4 691.5 1055.4C693.0 1055.4 694.4 1059.8 695.9 1059.8C696.8 1059.8 697.7 1057.0 698.6 1057.0C700.1 1057.0 701.5 1061.1 703.0 1061.1C704.2 1061.1 705.4 1055.5 706.6 1055.5C708.1 1055.5 709.6 1060.8 711.1 1060.8C712.3 1060.8 713.6 1058.0 714.9 1058.0C716.3 1058.0 717.7 1060.1 719.0 1060.1C720.4 1060.1 721.7 1058.0 723.0 1058.0C724.5 1058.0 726.0 1058.8 727.5 1058.8C728.7 1058.8 729.9 1055.8 731.1 1055.8C732.5 1055.8 734.0 1059.3 735.5 1059.3C736.5 1059.3 737.6 1058.4 738.6 1058.4C739.8 1058.4 741.0 1059.6 742.2 1059.6C743.8 1059.6 745.4 1059.0 747.0 1058.0C748.8 1056.9 750.6 1036.0 752.4 1036.0C754.3 1036.0 756.1 1058.0 758.0 1058.0C760.3 1058.0 762.5 1055.2 764.8 1055.2C765.7 1055.2 766.7 1060.5 767.7 1060.5C768.7 1060.5 769.7 1056.0 770.7 1056.0C771.9 1056.0 773.1 1059.3 774.3 1059.3C775.5 1059.3 776.7 1057.6 777.9 1057.6C779.3 1057.6 780.7 1059.1 782.1 1059.1C783.1 1059.1 784.1 1055.6 785.0 1055.6C786.2 1055.6 787.4 1060.4 788.6 1060.4C789.5 1060.4 790.5 1056.7 791.5 1056.7C792.7 1056.7 793.9 1062.4 795.2 1062.4C796.7 1062.4 798.2 1056.8 799.7 1056.8C801.0 1056.8 802.4 1060.4 803.8 1060.4C805.0 1060.4 806.1 1056.2 807.3 1056.2C808.5 1056.2 809.7 1060.9 810.9 1060.9C812.3 1060.9 813.8 1055.3 815.3 1055.3C816.5 1055.3 817.6 1062.0 818.8 1062.0C819.9 1062.0 821.0 1055.7 822.1 1055.7C823.3 1055.7 824.4 1061.3 825.6 1061.3C826.5 1061.3 827.5 1056.4 828.4 1056.4C829.3 1056.4 830.2 1059.6 831.1 1059.6C832.0 1059.6 832.8 1058.0 833.6 1058.0C834.9 1058.0 836.2 1061.3 837.5 1061.3C838.6 1061.3 839.7 1056.4 840.7 1056.4C842.1 1056.4 843.4 1062.0 844.7 1062.0C845.9 1062.0 847.1 1057.8 848.2 1057.8C849.4 1057.8 850.6 1060.9 851.8 1060.9C852.9 1060.9 854.0 1057.2 855.0 1057.2C856.0 1057.2 856.9 1061.7 857.8 1061.7C859.1 1061.7 860.3 1056.4 861.6 1056.4C863.0 1056.4 864.4 1060.2 865.8 1060.2C867.3 1060.2 868.7 1057.9 870.1 1057.9C871.5 1057.9 872.9 1059.1 874.2 1059.1C875.3 1059.1 876.3 1057.6 877.4 1057.6C878.3 1057.6 879.3 1058.8 880.3 1058.8C881.7 1058.8 883.1 1058.2 884.6 1058.2C885.9 1058.2 887.2 1061.5 888.6 1061.5C889.4 1061.5 890.3 1055.6 891.2 1055.6C892.6 1055.6 893.9 1062.0 895.3 1062.0C896.4 1062.0 897.5 1054.0 898.6 1054.0C899.9 1054.0 901.2 1059.1 902.5 1059.1C904.0 1059.1 905.5 1058.5 907.0 1058.3C908.3 1058.2 909.7 1058.2 911.0 1058.0C913.2 1057.7 915.3 1037.0 917.5 1037.0C919.7 1037.0 921.8 1053.1 924.0 1056.0C926.4 1059.2 928.8 1062.1 931.2 1062.1C932.1 1062.1 932.9 1055.2 933.8 1055.2C935.2 1055.2 936.5 1061.3 937.9 1061.3C939.2 1061.3 940.6 1059.6 942.0 1058.0C944.3 1055.4 946.5 1042.0 948.8 1042.0C951.2 1042.0 953.6 1057.0 956.0 1057.0C958.5 1057.0 961.0 1055.7 963.5 1055.7C965.0 1055.7 966.5 1057.0 968.0 1057.0C970.3 1057.0 972.6 1043.5 974.9 1043.5C977.3 1043.5 979.6 1056.0 982.0 1056.0C984.3 1056.0 986.7 1055.6 989.0 1055.0C991.3 1054.4 993.7 1042.0 996.0 1042.0C998.2 1042.0 1000.3 1053.0 1002.5 1053.0C1005.0 1053.0 1007.4 1017.3 1009.9 1017.3C1012.3 1017.3 1014.8 1060.0 1017.2 1060.0C1021.5 1060.0 1025.9 976.6 1030.2 976.6C1033.5 976.6 1036.9 1021.5 1040.2 1021.5C1041.8 1021.5 1043.4 1017.7 1045.0 1012.0C1046.5 1006.7 1048.0 980.0 1049.5 940.0C1050.7 908.9 1051.8 760.5 1053.0 700.0C1054.2 639.5 1055.3 554.0 1056.5 554.0C1057.7 554.0 1058.8 636.0 1060.0 690.0C1061.0 736.3 1062.0 837.1 1063.0 860.0C1064.0 882.9 1065.0 903.0 1066.0 903.0C1067.2 903.0 1068.3 892.5 1069.5 880.0C1070.7 867.5 1071.8 830.8 1073.0 780.0C1074.0 736.5 1075.0 624.0 1076.0 520.0C1076.8 433.4 1077.7 351.8 1078.5 200.0C1079.2 78.6 1079.8 -400.0 1080.5 -400.0C1100.0 -400.0 1119.5 -400.0 1139.0 -400.0C1140.7 -400.0 1142.3 950.0 1144.0 950.0C1145.7 950.0 1147.3 -400.0 1149.0 -400.0C1157.7 -400.0 1166.3 -400.0 1175.0 -400.0C1176.7 -400.0 1178.3 871.5 1180.0 871.5C1181.7 871.5 1183.3 -400.0 1185.0 -400.0C1187.7 -400.0 1190.3 -400.0 1193.0 -400.0C1195.7 -400.0 1198.3 905.0 1201.0 905.0C1202.9 905.0 1204.7 873.0 1206.6 873.0C1209.1 873.0 1211.5 1050.0 1214.0 1050.0C1218.8 1050.0 1223.5 855.0 1228.3 855.0C1232.5 855.0 1236.8 972.9 1241.0 1005.0C1243.3 1022.7 1245.7 1046.0 1248.0 1046.0C1250.7 1046.0 1253.3 1040.0 1256.0 1040.0C1258.7 1040.0 1261.3 1050.0 1264.0 1050.0C1268.3 1050.0 1272.7 982.0 1277.0 982.0C1279.3 982.0 1281.7 990.9 1284.0 1000.0C1286.0 1007.8 1288.0 1044.0 1290.0 1046.0C1292.7 1048.6 1295.3 1048.4 1298.0 1050.0C1300.7 1051.6 1303.3 1056.0 1306.0 1056.0C1308.7 1056.0 1311.3 1048.0 1314.0 1048.0C1316.7 1048.0 1319.3 1056.0 1322.0 1056.0C1324.7 1056.0 1327.3 1048.0 1330.0 1048.0C1332.7 1048.0 1335.3 1055.0 1338.0 1055.0C1339.8 1055.0 1341.7 1047.9 1343.5 1040.0C1345.5 1031.4 1347.5 975.5 1349.5 975.5C1351.3 975.5 1353.2 1035.0 1355.0 1035.0C1357.3 1035.0 1359.5 1027.0 1361.8 1027.0C1363.5 1027.0 1365.3 1050.0 1367.0 1050.0C1369.0 1050.0 1371.0 1045.0 1373.0 1045.0C1375.3 1045.0 1377.7 1052.0 1380.0 1052.0C1381.7 1052.0 1383.3 1045.5 1385.0 1040.0C1386.9 1033.6 1388.9 1008.0 1390.8 1008.0C1392.9 1008.0 1394.9 1050.0 1397.0 1050.0C1399.7 1050.0 1402.3 1045.0 1405.0 1045.0C1407.3 1045.0 1409.7 1052.0 1412.0 1052.0C1413.7 1052.0 1415.3 1040.9 1417.0 1035.0C1418.9 1028.3 1420.8 1014.0 1422.7 1014.0C1425.5 1014.0 1428.2 1050.0 1431.0 1050.0C1434.0 1050.0 1437.0 1046.0 1440.0 1046.0C1442.7 1046.0 1445.3 1052.5 1448.0 1055.0C1449.8 1056.7 1451.7 1059.4 1453.5 1059.4C1454.9 1059.4 1456.4 1055.7 1457.8 1055.7C1458.8 1055.7 1459.8 1059.8 1460.8 1059.8C1461.7 1059.8 1462.5 1057.8 1463.4 1056.9C1466.2 1054.3 1468.9 1050.0 1471.7 1050.0C1473.8 1050.0 1476.0 1053.3 1478.1 1055.7C1479.3 1057.0 1480.5 1060.5 1481.7 1060.5C1482.6 1060.5 1483.5 1055.6 1484.5 1055.6C1485.5 1055.6 1486.5 1062.2 1487.6 1062.2C1488.6 1062.2 1489.6 1057.0 1490.7 1057.0C1491.7 1057.0 1492.8 1059.9 1493.9 1059.9C1494.8 1059.9 1495.7 1058.2 1496.5 1057.3C1499.3 1054.6 1502.0 1049.0 1504.7 1049.0C1506.1 1049.0 1507.4 1061.6 1508.8 1061.6C1510.0 1061.6 1511.2 1050.0 1512.4 1050.0C1513.8 1050.0 1515.2 1061.7 1516.6 1061.7C1517.8 1061.7 1519.1 1057.7 1520.3 1057.7C1521.5 1057.7 1522.7 1061.4 1523.9 1061.4C1524.9 1061.4 1526.0 1057.3 1527.0 1057.3C1528.0 1057.3 1529.0 1061.8 1530.0 1061.8C1531.4 1061.8 1532.7 1057.5 1534.0 1057.5C1535.2 1057.5 1536.4 1059.8 1537.6 1059.8C1538.7 1059.8 1539.7 1055.6 1540.8 1055.6C1541.7 1055.6 1542.6 1062.1 1543.5 1062.1C1544.8 1062.1 1546.1 1056.1 1547.4 1056.1C1548.5 1056.1 1549.6 1059.4 1550.7 1059.4C1551.9 1059.4 1553.2 1058.4 1554.4 1058.4C1555.3 1058.4 1556.3 1062.0 1557.2 1062.0C1558.3 1062.0 1559.4 1058.5 1560.5 1058.5C1561.6 1058.5 1562.7 1060.6 1563.8 1060.6C1565.1 1060.6 1566.4 1055.9 1567.6 1055.9C1568.7 1055.9 1569.8 1061.3 1570.9 1061.3C1572.0 1061.3 1573.1 1058.7 1574.2 1058.7C1575.5 1058.7 1576.8 1058.8 1578.1 1058.8C1579.5 1058.8 1580.9 1056.3 1582.2 1056.3C1583.1 1056.3 1583.9 1061.3 1584.7 1061.3C1585.8 1061.3 1586.8 1056.3 1587.9 1056.3C1589.0 1056.3 1590.1 1060.6 1591.1 1060.6C1592.5 1060.6 1593.9 1055.7 1595.3 1055.7C1596.2 1055.7 1597.1 1059.6 1598.0 1059.6C1599.5 1059.6 1600.9 1056.7 1602.4 1056.7C1603.6 1056.7 1604.7 1062.0 1605.9 1062.0C1607.2 1062.0 1608.5 1056.4 1609.8 1055.0C1611.2 1053.6 1612.6 1052.0 1614.0 1052.0C1615.8 1052.0 1617.7 1062.2 1619.5 1062.2C1620.5 1062.2 1621.5 1056.6 1622.5 1056.6C1623.5 1056.6 1624.6 1059.0 1625.6 1059.0C1626.7 1059.0 1627.8 1057.0 1628.8 1057.0C1630.3 1057.0 1631.8 1062.0 1633.3 1062.0C1634.8 1062.0 1636.2 1056.7 1637.7 1056.7C1638.9 1056.7 1640.1 1061.5 1641.3 1061.5C1642.8 1061.5 1644.2 1055.0 1645.7 1055.0C1646.9 1055.0 1648.1 1062.0 1649.4 1062.0C1650.9 1062.0 1652.5 1060.1 1654.0 1058.0C1656.3 1054.8 1658.7 1032.0 1661.0 1032.0C1663.3 1032.0 1665.7 1058.0 1668.0 1058.0C1669.9 1058.0 1671.9 1056.0 1673.8 1056.0C1675.1 1056.0 1676.3 1059.5 1677.5 1059.5C1678.4 1059.5 1679.2 1058.0 1680.0 1058.0C1680.9 1058.0 1681.8 1061.1 1682.8 1061.1C1684.0 1061.1 1685.2 1058.1 1686.4 1058.1C1687.4 1058.1 1688.4 1060.4 1689.4 1060.4C1690.5 1060.4 1691.5 1051.6 1692.6 1051.6C1693.5 1051.6 1694.4 1058.9 1695.3 1058.9C1696.5 1058.9 1697.8 1057.0 1699.0 1057.0C1700.3 1057.0 1701.5 1059.9 1702.8 1059.9C1704.1 1059.9 1705.5 1055.9 1706.8 1055.9C1708.3 1055.9 1709.8 1059.4 1711.4 1059.4C1712.8 1059.4 1714.2 1057.2 1715.6 1057.2C1716.8 1057.2 1718.0 1059.1 1719.2 1059.1C1720.4 1059.1 1721.6 1056.8 1722.8 1056.8C1724.3 1056.8 1725.7 1061.3 1727.2 1061.3C1728.0 1061.3 1728.9 1056.0 1729.7 1056.0C1731.0 1056.0 1732.4 1060.3 1733.7 1060.3C1735.0 1060.3 1736.4 1057.6 1737.7 1057.6C1738.6 1057.6 1739.5 1062.0 1740.3 1062.0C1741.5 1062.0 1742.6 1056.9 1743.7 1056.9C1744.6 1056.9 1745.4 1059.9 1746.3 1059.9C1747.5 1059.9 1748.6 1057.9 1749.8 1057.9C1750.9 1057.9 1752.0 1061.6 1753.1 1061.6C1754.0 1061.6 1754.8 1055.3 1755.7 1055.3C1757.8 1055.3 1759.9 1060.0 1762.0 1060.0C1764.5 1060.0 1766.9 937.0 1769.4 937.0C1771.9 937.0 1774.5 1058.7 1777.0 1060.0C1778.5 1060.8 1780.0 1061.3 1781.5 1061.3C1782.3 1061.3 1783.2 1055.4 1784.1 1055.4C1785.2 1055.4 1786.3 1061.2 1787.4 1061.2C1788.6 1061.2 1789.8 1050.5 1791.0 1050.5C1792.1 1050.5 1793.1 1060.6 1794.1 1060.6C1795.6 1060.6 1797.1 1055.1 1798.5 1055.1C1799.5 1055.1 1800.5 1061.4 1801.4 1061.4C1802.9 1061.4 1804.4 1055.4 1805.8 1055.4C1807.2 1055.4 1808.6 1061.2 1810.0 1061.2C1811.2 1061.2 1812.3 1058.1 1813.5 1058.1C1815.0 1058.1 1816.5 1061.7 1818.0 1061.7C1821.3 1061.7 1824.7 1058.8 1828.0 1055.0C1830.9 1051.7 1833.8 1027.0 1836.7 1027.0C1839.5 1027.0 1842.2 1050.0 1845.0 1050.0C1850.7 1050.0 1856.3 1027.0 1862.0 1027.0C1866.3 1027.0 1870.7 1051.0 1875.0 1051.0C1880.0 1051.0 1885.0 732.0 1890.0 732.0C1892.1 732.0 1894.3 949.0 1896.4 949.0C1899.8 949.0 1903.2 181.0 1906.6 181.0C1909.7 181.0 1912.9 560.9 1916.0 700.0C1919.1 839.1 1922.3 1049.0 1925.4 1049.0C1930.1 1049.0 1934.8 847.0 1939.5 847.0C1942.8 847.0 1946.2 1053.0 1949.5 1053.0C1952.6 1053.0 1955.7 1052.2 1958.8 1051.0C1963.7 1049.1 1968.7 997.0 1973.6 997.0C1977.9 997.0 1982.3 1051.0 1986.6 1051.0C1991.1 1051.0 1995.5 956.0 2000.0 956.0"/>
</g></g>
<line x1="301.7" y1="54.7" x2="301.7" y2="1069.3" stroke="#3a3a3a" stroke-width="4.6"/>
<line x1="301.7" y1="966.0" x2="322.7" y2="966.0" stroke="#3a3a3a" stroke-width="4.2"/>
<line x1="301.7" y1="865.0" x2="322.7" y2="865.0" stroke="#3a3a3a" stroke-width="4.2"/>
<line x1="301.7" y1="764.0" x2="322.7" y2="764.0" stroke="#3a3a3a" stroke-width="4.2"/>
<line x1="301.7" y1="663.0" x2="322.7" y2="663.0" stroke="#3a3a3a" stroke-width="4.2"/>
<line x1="301.7" y1="562.0" x2="322.7" y2="562.0" stroke="#3a3a3a" stroke-width="4.2"/>
<line x1="301.7" y1="461.0" x2="322.7" y2="461.0" stroke="#3a3a3a" stroke-width="4.2"/>
<line x1="301.7" y1="360.0" x2="322.7" y2="360.0" stroke="#3a3a3a" stroke-width="4.2"/>
<line x1="301.7" y1="259.0" x2="322.7" y2="259.0" stroke="#3a3a3a" stroke-width="4.2"/>
<line x1="301.7" y1="158.0" x2="322.7" y2="158.0" stroke="#3a3a3a" stroke-width="4.2"/>
<text transform="translate(243.0,1091.7) scale(0.977,1)" text-anchor="end" font-family="Liberation Serif, Times New Roman, serif" font-size="74" fill="#000" >0</text>
<text transform="translate(243.0,990.6) scale(0.977,1)" text-anchor="end" font-family="Liberation Serif, Times New Roman, serif" font-size="74" fill="#000" >500</text>
<text transform="translate(243.0,889.4) scale(0.977,1)" text-anchor="end" font-family="Liberation Serif, Times New Roman, serif" font-size="74" fill="#000" >1000</text>
<text transform="translate(243.0,788.2) scale(0.977,1)" text-anchor="end" font-family="Liberation Serif, Times New Roman, serif" font-size="74" fill="#000" >1500</text>
<text transform="translate(243.0,687.1) scale(0.977,1)" text-anchor="end" font-family="Liberation Serif, Times New Roman, serif" font-size="74" fill="#000" >2000</text>
<text transform="translate(243.0,586.0) scale(0.977,1)" text-anchor="end" font-family="Liberation Serif, Times New Roman, serif" font-size="74" fill="#000" >2500</text>
<text transform="translate(243.0,484.8) scale(0.977,1)" text-anchor="end" font-family="Liberation Serif, Times New Roman, serif" font-size="74" fill="#000" >3000</text>
<text transform="translate(243.0,383.6) scale(0.977,1)" text-anchor="end" font-family="Liberation Serif, Times New Roman, serif" font-size="74" fill="#000" >3500</text>
<text transform="translate(243.0,282.5) scale(0.977,1)" text-anchor="end" font-family="Liberation Serif, Times New Roman, serif" font-size="74" fill="#000" >4000</text>
<text transform="translate(243.0,181.3) scale(0.977,1)" text-anchor="end" font-family="Liberation Serif, Times New Roman, serif" font-size="74" fill="#000" >4500</text>
<text transform="translate(243.0,80.2) scale(0.977,1)" text-anchor="end" font-family="Liberation Serif, Times New Roman, serif" font-size="74" fill="#000" >5000</text>
<text transform="translate(301.7,1173.8) scale(0.977,1)" text-anchor="middle" font-family="Liberation Serif, Times New Roman, serif" font-size="74" fill="#000" >0</text>
<text transform="translate(641.4,1173.8) scale(0.977,1)" text-anchor="middle" font-family="Liberation Serif, Times New Roman, serif" font-size="74" fill="#000" >10</text>
<text transform="translate(981.1,1173.8) scale(0.977,1)" text-anchor="middle" font-family="Liberation Serif, Times New Roman, serif" font-size="74" fill="#000" >20</text>
<text transform="translate(1320.8,1173.8) scale(0.977,1)" text-anchor="middle" font-family="Liberation Serif, Times New Roman, serif" font-size="74" fill="#000" >30</text>
<text transform="translate(1660.5,1173.8) scale(0.977,1)" text-anchor="middle" font-family="Liberation Serif, Times New Roman, serif" font-size="74" fill="#000" >40</text>
<text transform="translate(2000.2,1173.8) scale(0.977,1)" text-anchor="middle" font-family="Liberation Serif, Times New Roman, serif" font-size="74" fill="#000" >50</text>
<text transform="translate(1151.0,1245.5) scale(0.9662529999999999,1)" text-anchor="middle" font-family="Liberation Serif, Times New Roman, serif" font-size="74" fill="#000" >Frequency [Hz]</text>
<text transform="translate(79,562.8) rotate(-90) scale(0.977,1)" text-anchor="middle" font-family="Liberation Serif, Times New Roman, serif" font-size="74" fill="#000">Power</text>
<rect x="392.5" y="86.5" width="473" height="734" fill="#fff" stroke="#444" stroke-width="4.4" stroke-linejoin="round"/>
<line x1="421.5" y1="139.7" x2="540.5" y2="139.7" stroke="#4472C4" stroke-width="6"/>
<text transform="translate(549.0,162.0) scale(0.977,1)" text-anchor="start" font-family="Liberation Serif, Times New Roman, serif" font-size="74" fill="#000" >Srip ratio:</text>
<text transform="translate(549.0,244.5) scale(0.977,1)" text-anchor="start" font-family="Liberation Serif, Times New Roman, serif" font-size="74" fill="#000" >s = 0.10</text>
<line x1="421.5" y1="323.2" x2="540.5" y2="323.2" stroke="#EE1ED8" stroke-width="6"/>
<text transform="translate(549.0,345.5) scale(0.977,1)" text-anchor="start" font-family="Liberation Serif, Times New Roman, serif" font-size="74" fill="#000" >Srip ratio:</text>
<text transform="translate(549.0,428.0) scale(0.977,1)" text-anchor="start" font-family="Liberation Serif, Times New Roman, serif" font-size="74" fill="#000" >s = 0.40</text>
<line x1="421.5" y1="506.7" x2="540.5" y2="506.7" stroke="#70AD47" stroke-width="6"/>
<text transform="translate(549.0,529.0) scale(0.977,1)" text-anchor="start" font-family="Liberation Serif, Times New Roman, serif" font-size="74" fill="#000" >Srip ratio:</text>
<text transform="translate(549.0,611.5) scale(0.977,1)" text-anchor="start" font-family="Liberation Serif, Times New Roman, serif" font-size="74" fill="#000" >s = 0.66</text>
<line x1="421.5" y1="690.2" x2="540.5" y2="690.2" stroke="#F5CF5F" stroke-width="6"/>
<text transform="translate(549.0,712.5) scale(0.977,1)" text-anchor="start" font-family="Liberation Serif, Times New Roman, serif" font-size="74" fill="#000" >Srip ratio:</text>
<text transform="translate(549.0,795.0) scale(0.977,1)" text-anchor="start" font-family="Liberation Serif, Times New Roman, serif" font-size="74" fill="#000" >s = 0.89</text>
</g>
</svg>
</body></html>
